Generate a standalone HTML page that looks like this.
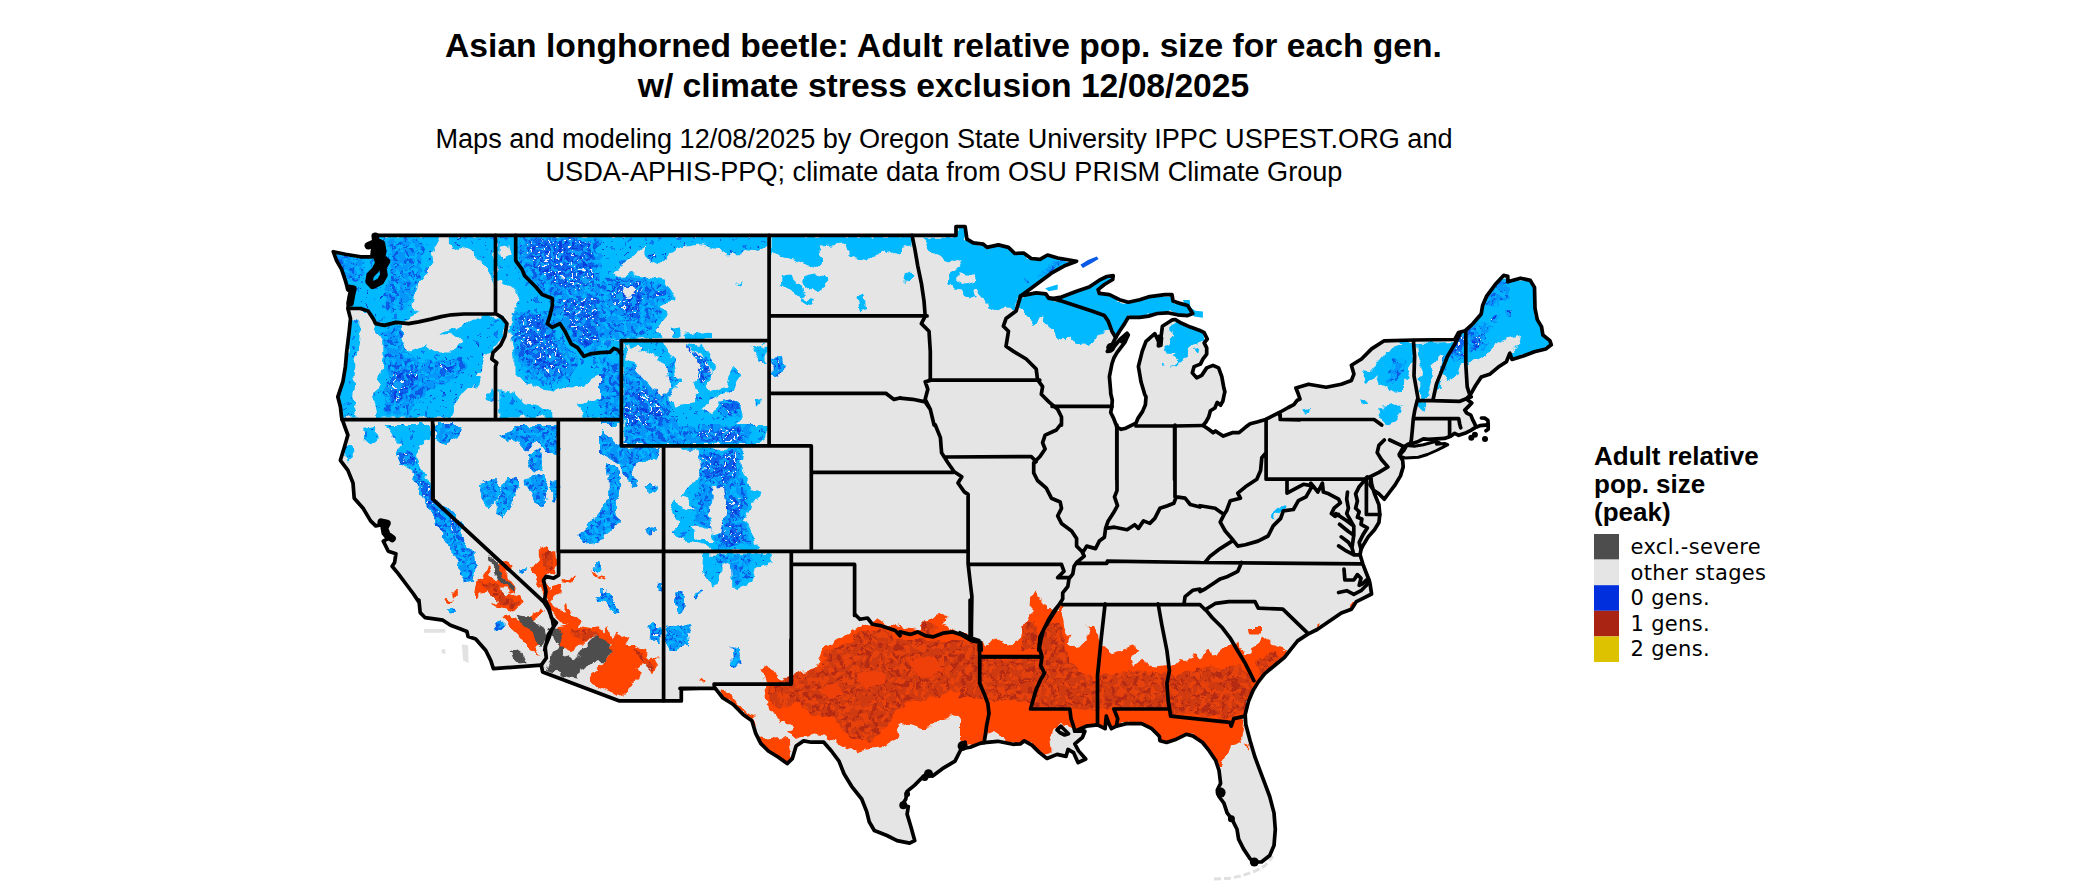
<!DOCTYPE html>
<html><head><meta charset="utf-8"><title>Asian longhorned beetle map</title>
<style>
html,body{margin:0;padding:0;background:#fff}
svg{display:block}
.t{font-family:"Liberation Sans",Arial,sans-serif;font-weight:bold;font-size:33.65px;fill:#000}
.s{font-family:"Liberation Sans",Arial,sans-serif;font-size:27.12px;fill:#000}
.lt{font-family:"Liberation Sans",Arial,sans-serif;font-weight:bold;font-size:26px;fill:#000}
.ll{font-family:"DejaVu Sans",Verdana,sans-serif;font-size:21px;letter-spacing:0.33px;fill:#000}
</style></head><body>
<svg width="2100" height="892" viewBox="0 0 2100 892">
<rect width="2100" height="892" fill="#fff"/>
<text class="t" x="943.5" y="57.3" text-anchor="middle">Asian longhorned beetle: Adult relative pop. size for each gen.</text>
<text class="t" x="943.5" y="97" text-anchor="middle">w/ climate stress exclusion 12/08/2025</text>
<text class="s" x="944" y="147.8" text-anchor="middle">Maps and modeling 12/08/2025 by Oregon State University IPPC USPEST.ORG and</text>
<text class="s" x="944" y="180.8" text-anchor="middle">USDA-APHIS-PPQ; climate data from OSU PRISM Climate Group</text>
<g id="legend">
<text class="lt" x="1594" y="465">Adult relative</text>
<text class="lt" x="1594" y="492.8">pop. size</text>
<text class="lt" x="1594" y="520.8">(peak)</text>
<rect x="1594" y="534" width="25" height="25.6" fill="#4d4d4d"/>
<rect x="1594" y="559.6" width="25" height="25.6" fill="#e5e5e5"/>
<rect x="1594" y="585.2" width="25" height="25.6" fill="#0030dd"/>
<rect x="1594" y="610.8" width="25" height="25.6" fill="#aa2414"/>
<rect x="1594" y="636.4" width="25" height="25.6" fill="#ddc200"/>
<text class="ll" x="1630.5" y="554">excl.-severe</text>
<text class="ll" x="1630.5" y="579.6">other stages</text>
<text class="ll" x="1630.5" y="605.2">0 gens.</text>
<text class="ll" x="1630.5" y="630.8">1 gens.</text>
<text class="ll" x="1630.5" y="656.4">2 gens.</text>
</g>
<defs>
<clipPath id="us"><path d="M375.2,235.3 900.0,235.3 956.0,235.3 956.0,226.5 965.1,226.5 966.9,239.1 973.2,242.9 983.3,244.2 987.0,247.4 998.4,244.9 1008.5,247.4 1014.8,253.5 1023.6,253.0 1031.2,258.5 1040.0,259.3 1047.6,255.0 1057.7,258.0 1076.6,261.3 1064.0,266.1 1051.4,273.2 1041.3,280.7 1031.2,288.3 1020.6,295.9 1036.2,292.9 1045.8,293.9 1048.9,298.4 1053.9,298.4 1061.5,297.1 1076.6,291.3 1089.2,287.0 1099.3,280.2 1106.9,276.5 1113.2,275.7 1112.7,279.5 1104.4,284.5 1098.1,289.6 1099.3,293.4 1109.4,294.6 1119.5,299.7 1128.3,302.2 1139.7,299.7 1149.8,296.6 1164.9,294.6 1172.0,294.6 1173.0,300.9 1180.1,303.4 1187.6,305.5 1192.7,313.5 1187.6,315.6 1177.5,314.8 1167.5,312.8 1157.4,313.5 1148.5,316.1 1139.7,317.3 1128.3,317.3 1124.6,323.6 1119.5,331.2 1115.7,337.5 1111.9,345.1 1107.4,351.4 1110.7,350.9 1119.5,340.0 1127.1,333.2 1128.3,335.0 1124.6,342.6 1117.0,352.6 1114.0,357.7 1111.9,364.0 1109.4,376.6 1110.7,391.8 1110.7,393.5 1112.3,400.2 1111.8,406.9 1110.7,412.5 1113.5,418.1 1115.7,423.7 1116.8,427.1 1121.3,429.3 1125.8,428.2 1131.4,425.4 1135.9,423.2 1138.1,418.1 1142.6,411.4 1145.4,404.7 1146.0,396.8 1144.7,394.3 1141.0,381.7 1138.4,366.5 1142.2,351.4 1146.0,341.3 1154.8,333.7 1158.6,341.3 1161.1,336.2 1162.4,326.2 1172.5,319.8 1175.3,319.5 1181.6,323.3 1190.4,327.1 1199.2,330.2 1204.2,332.7 1207.3,339.0 1204.2,342.8 1206.7,347.8 1206.7,354.1 1202.9,359.1 1200.4,364.1 1194.1,366.6 1192.3,372.9 1196.7,377.9 1201.7,375.4 1206.7,367.9 1213.0,365.4 1218.6,367.9 1221.8,376.7 1223.6,386.7 1224.9,392.0 1224.4,393.5 1222.8,401.3 1220.5,405.2 1217.2,402.4 1214.9,408.0 1210.4,410.8 1208.7,417.0 1205.9,422.0 1203.1,425.4 1208.7,429.3 1213.2,432.7 1215.5,431.0 1218.8,433.3 1223.3,436.1 1232.3,432.7 1239.0,432.7 1245.7,427.1 1250.2,423.7 1257.0,422.0 1264.8,419.8 1272.6,415.9 1279.4,412.5 1288.3,407.5 1293.9,404.7 1297.3,400.2 1300.0,399.1 1298.4,394.3 1295.9,388.0 1308.5,384.2 1326.2,387.2 1341.3,384.2 1351.4,380.4 1353.9,374.1 1351.4,365.3 1361.5,359.0 1371.6,348.9 1384.2,340.8 1414.5,340.0 1454.8,339.5 1458.6,332.5 1465.0,330.8 1472.8,323.8 1481.2,314.0 1482.6,305.6 1486.8,295.8 1495.2,284.6 1503.6,275.4 1507.8,276.2 1507.8,281.8 1520.4,278.2 1530.3,280.4 1534.5,287.4 1535.0,308.4 1537.3,319.6 1541.5,326.6 1542.9,335.0 1549.9,340.6 1551.3,344.8 1545.7,349.0 1534.5,351.8 1523.2,356.1 1512.0,359.4 1509.8,353.2 1506.4,361.7 1498.0,367.3 1489.6,374.3 1481.2,377.1 1475.6,385.5 1470.0,395.3 1467.2,398.1 1467.8,400.0 1471.8,403.0 1468.8,406.1 1464.8,410.1 1466.8,413.1 1470.8,415.1 1472.9,420.2 1474.9,424.2 1475.9,427.2 1470.8,430.3 1464.8,433.3 1458.7,435.3 1454.7,433.3 1450.6,436.3 1444.6,438.4 1436.5,438.9 1428.4,439.4 1423.4,438.9 1418.4,441.4 1412.3,443.4 1408.3,444.1 1403.2,447.4 1399.2,454.5 1402.7,460.6 1403.2,466.9 1400.5,475.9 1395.1,484.9 1389.7,492.0 1384.3,499.2 1378.9,493.8 1373.6,490.2 1370.0,484.9 1370.9,478.6 1371.8,484.9 1374.5,493.8 1378.9,504.6 1379.8,514.5 1378.9,522.5 1374.5,529.7 1368.2,536.9 1362.8,545.9 1361.0,549.4 1360.1,554.8 1362.8,563.8 1365.5,571.0 1369.1,580.0 1370.0,583.5 1371.6,594.0 1361.5,599.1 1356.4,601.6 1351.4,609.2 1341.3,613.0 1317.2,629.5 1307.4,634.4 1297.6,640.9 1291.0,649.1 1284.5,657.3 1274.6,665.5 1264.8,673.7 1258.3,681.9 1253.3,690.1 1248.4,701.5 1245.2,714.6 1245.8,724.5 1250.1,740.8 1255.0,757.2 1259.9,770.3 1264.8,783.4 1269.7,796.5 1274.0,812.9 1275.3,829.3 1274.0,845.6 1269.7,855.5 1261.5,862.0 1253.3,862.0 1250.1,858.7 1243.5,848.9 1238.6,839.1 1237.0,829.3 1232.1,819.4 1227.1,812.9 1223.9,803.1 1219.0,796.5 1217.3,790.0 1220.6,783.4 1219.0,770.3 1215.7,760.5 1209.1,750.7 1202.6,742.5 1192.8,735.9 1186.2,734.3 1176.4,739.2 1166.6,742.5 1160.0,740.8 1159.3,736.2 1151.8,728.7 1141.7,723.6 1126.5,723.6 1116.4,726.2 1111.4,728.7 1108.9,723.6 1106.3,716.1 1105.1,728.7 1097.5,724.9 1086.2,726.2 1074.8,731.2 1084.9,731.2 1082.4,737.5 1074.8,743.8 1078.6,750.9 1085.7,759.0 1078.1,762.7 1073.5,752.6 1068.0,749.4 1066.0,756.4 1057.1,754.4 1047.0,758.5 1039.5,752.6 1031.9,745.1 1024.3,740.8 1020.6,743.8 1013.0,744.3 997.8,741.3 984.0,742.6 980.0,743.4 970.2,747.2 962.6,748.5 965.1,742.2 960.1,751.0 955.0,761.1 942.4,768.7 932.3,776.2 928.5,772.5 922.2,777.5 914.7,785.1 907.1,791.4 905.8,799.0 902.0,805.3 908.3,806.5 907.1,814.1 910.9,826.7 914.7,840.6 909.6,843.1 897.0,840.6 886.9,835.5 874.3,830.5 869.2,821.7 866.7,811.6 861.7,799.0 851.6,786.3 844.0,773.7 839.0,761.1 831.4,751.0 823.8,742.2 811.2,742.2 803.6,740.9 796.1,746.0 792.3,758.6 787.2,763.6 778.4,757.3 768.3,751.0 760.7,743.4 755.7,733.4 751.9,720.7 743.1,714.4 733.0,704.3 722.9,698.0 715.3,688.4 680.0,688.4 700.0,688.3 681.3,688.8 681.3,700.9 662.4,700.9 619.5,700.9 542.6,671.9 541.3,665.1 493.4,668.6 490.8,660.6 485.8,650.5 475.7,639.1 468.1,636.6 466.9,631.5 460.6,629.0 450.5,625.2 442.9,620.2 425.2,617.7 420.2,612.6 418.9,600.0 418.6,601.6 413.5,594.0 406.0,584.0 398.4,573.9 392.1,566.3 394.6,562.5 395.9,553.7 388.3,551.2 383.3,541.1 388.3,538.5 383.3,533.5 382.0,524.7 375.7,525.9 370.6,520.9 363.1,508.3 354.2,498.2 353.0,483.0 347.9,470.4 340.4,460.3 344.2,447.7 347.9,435.1 344.2,425.0 341.6,417.5 340.4,406.9 337.8,396.8 342.9,381.7 345.4,366.5 346.7,351.4 349.2,331.2 350.5,318.6 347.9,308.5 349.2,298.4 351.7,290.8 347.9,289.6 345.4,280.7 341.6,269.4 336.6,260.6 333.3,251.7 345.4,254.2 360.6,256.8 371.9,256.8 373.2,242.9 375.2,235.3Z M1407.0,445.6 1414.3,446.2 1423.4,444.7 1432.5,442.2 1437.0,441.6 1439.7,442.8 1436.5,444.2 1444.6,443.4 1447.8,444.6 1442.6,447.4 1436.5,450.5 1427.4,454.5 1418.4,457.3 1405.2,458.0 1399.2,456.0 1404.2,450.5Z"/></clipPath>
<clipPath id="cMB"><path d="M335.3,254.2 363.1,258.0 364.3,273.2 354.2,283.3 345.4,280.7 341.6,269.4Z M385.8,240.4 418.6,237.8 426.2,250.5 421.1,265.6 418.6,283.3 411.0,300.9 400.9,311.0 385.8,311.0 383.3,295.9 388.3,283.3 390.8,265.6 388.3,250.5Z M380.7,331.2 400.9,326.2 406.0,351.4 418.6,361.5 441.3,361.5 461.5,356.4 466.5,366.5 451.4,381.7 431.2,386.7 418.6,399.3 408.5,414.5 385.8,414.5 383.3,391.8 388.3,371.6 385.8,351.4Z M519.5,237.8 600.0,237.8 600.0,348.9 582.6,351.4 571.2,341.3 564.9,328.7 559.9,321.1 553.6,324.9 549.8,318.6 553.6,300.9 542.2,293.4 527.1,275.7 519.5,263.1Z M514.5,311.0 547.3,311.0 552.3,331.2 567.5,346.3 577.5,361.5 572.5,376.6 552.3,384.2 527.1,376.6 517.0,356.4 511.9,336.2Z M605.0,278.2 630.3,275.7 650.5,280.7 668.1,285.8 671.9,298.4 658.0,303.4 660.6,316.1 650.5,326.2 640.4,336.2 600.0,338.8 600.0,285.8Z M600.0,356.4 621.4,361.5 621.4,425.1 600.0,425.1Z M624.0,366.5 670.6,364.0 675.7,381.7 668.1,399.3 675.7,425.1 624.0,425.1Z M718.6,401.9 731.2,399.3 741.3,406.9 740.0,417.0 726.2,418.3 717.3,411.9Z M771.6,356.4 781.7,357.7 784.2,366.5 779.1,376.6 771.6,375.4Z M1036.2,277.0 1053.9,261.8 1066.5,260.6 1051.4,269.4 1041.3,277.0Z M1023.6,278.7 1029.2,278.2 1029.9,282.8 1024.1,283.3Z M1080.4,264.3 1096.8,256.8 1098.1,259.3 1082.9,267.6Z M1394.3,361.5 1406.9,359.0 1404.4,371.6 1394.3,381.7 1386.7,384.2 1389.2,374.1Z M1442.2,361.5 1452.3,343.8 1453.6,351.4 1446.0,364.0 1441.0,374.1Z M1467.5,336.2 1477.5,331.2 1490.2,341.3 1482.6,348.9 1472.5,351.4 1466.2,346.3Z M1487.6,288.3 1500.0,280.7 1500.0,306.0 1492.7,303.4Z M1484.0,297.2 1495.2,284.6 1503.6,276.2 1507.8,277.6 1510.6,297.2 1495.2,302.8 1486.8,303.4Z M1470.0,328.0 1484.0,322.4 1492.4,326.6 1484.0,339.2 1472.8,344.8 1467.2,339.2Z M1450.4,347.6 1460.2,336.4 1465.0,342.0 1461.6,358.9 1453.2,361.7Z M441.3,531.0 451.4,536.0 466.5,556.2 471.6,576.4 465.3,578.9 456.4,556.2Z M514.5,430.0 537.2,427.5 534.7,440.1 522.0,437.6Z M624.0,425.0 751.4,425.0 746.3,442.7 624.0,443.2Z M605.0,440.1 620.2,450.2 650.5,450.7 637.8,457.8 627.8,462.8 615.1,455.3Z M608.8,470.4 617.7,474.2 613.9,500.7 613.9,520.9 607.6,528.4 602.5,520.9 608.8,500.7Z M693.4,450.2 741.3,450.2 741.3,475.5 748.9,495.6 743.8,520.9 748.9,543.6 718.6,548.6 713.5,531.0 695.9,520.9 693.4,500.7 700.9,488.1 695.9,470.4Z M711.0,554.9 751.4,554.9 748.9,576.4 736.2,586.5 731.2,576.4 721.1,566.3Z M603.8,594.0 610.1,594.0 610.1,599.1 604.5,599.1Z M647.9,625.6 660.6,626.9 661.8,642.0 653.0,642.0 649.2,634.4Z M495.9,622.7 502.2,622.2 502.2,629.0 497.1,629.8Z M647.3,625.2 661.1,626.5 661.1,641.6 649.8,640.4Z M731.7,645.0 738.0,647.6 739.3,665.2 733.0,665.2Z M603.4,592.6 610.5,593.6 610.5,598.6 604.4,598.6Z M647.8,626.9 653.9,623.9 660.9,628.9 660.9,641.0 653.9,643.0 648.8,637.0Z M578.2,536.1 587.3,530.0 605.4,530.0 603.4,538.1 591.3,542.1 581.2,543.1Z M414.8,467.9 431.2,488.1 433.7,500.7 451.4,510.8 464.0,525.9 461.5,536.0 466.5,543.6 474.1,551.2 476.6,566.3 474.1,581.4 464.0,582.7 461.5,568.8 451.4,551.2 441.3,533.5 431.2,515.8 423.6,498.2 413.5,480.5Z M435.0,425.0 461.5,425.0 459.0,437.6 446.3,445.2 437.5,440.1Z M499.3,435.1 519.5,425.0 557.4,425.0 557.4,455.3 547.3,452.8 537.2,440.1 527.1,450.2 517.0,440.1 506.9,442.7Z M479.1,483.0 494.3,478.0 501.9,488.1 496.8,498.2 489.2,508.3 481.7,498.2Z M496.8,500.7 509.4,475.5 519.5,480.5 514.5,500.7 504.4,518.4 496.8,513.3Z M524.6,480.5 542.2,472.9 549.8,488.1 542.2,505.7 532.1,500.7Z M527.1,455.3 539.7,447.7 542.2,467.9 532.1,472.9Z M552.3,480.5 557.4,483.0 556.1,503.2 552.3,500.7Z M577.5,536.0 587.6,525.9 600.0,510.8 600.0,541.1 585.1,543.6Z M448.9,610.4 453.9,609.2 453.4,613.7 449.4,614.2Z M495.5,623.1 501.9,621.8 501.9,629.4 496.8,629.9Z M519.5,568.8 524.6,568.3 524.6,572.6 520.0,572.6Z M593.9,561.2 599.0,560.0 600.0,571.3 595.2,570.1Z M600.0,430.0 620.2,447.2 660.6,448.2 654.2,457.8 637.8,462.8 632.8,475.5 639.1,485.6 635.3,488.1 625.2,476.7 620.2,465.4 610.1,459.1 600.0,452.8Z M605.0,462.8 618.9,469.2 622.2,484.3 616.4,500.7 617.7,520.9 610.1,532.2 600.0,536.0 600.0,510.8 607.6,500.7 609.6,483.0Z M646.7,486.8 656.8,485.6 655.5,493.1 647.9,494.4Z M645.4,529.7 656.8,527.2 656.8,532.2 646.7,533.5Z M673.2,592.8 683.3,591.5 684.5,611.7 678.2,614.2 675.7,601.6Z M692.1,596.6 700.9,590.3 699.7,596.6 694.6,600.4Z M600.0,590.3 610.1,591.5 612.6,601.6 617.7,614.2 612.6,611.7 605.0,601.6 600.0,599.1Z M656.8,584.0 661.8,582.7 661.8,591.5 658.0,590.3Z M666.9,626.9 673.2,625.6 675.7,636.9 688.3,624.3 689.6,644.5 673.2,650.1 666.9,647.0Z M447.9,609.6 454.2,608.8 454.2,613.1 448.4,613.9Z M606.9,600.0 614.5,601.3 618.3,612.6 614.5,615.1 609.4,607.6Z M677.5,600.0 685.1,600.0 683.9,612.6 677.5,613.9Z M664.9,629.0 690.2,624.0 690.2,632.8 680.1,635.3 687.6,639.1 688.9,645.4 672.5,649.2 670.0,642.9 675.0,637.8 664.9,635.3Z M680.0,640.0 690.1,640.0 688.8,646.3 680.0,645.0Z M595.3,560.3 599.4,560.3 601.4,570.4 597.4,572.4 594.3,566.3Z M597.4,596.6 603.4,590.6 611.5,592.6 611.5,600.6 617.5,608.7 617.5,614.8 611.5,610.7 607.4,602.7 599.4,601.7Z M495.4,622.9 501.5,621.8 502.5,628.9 497.4,629.9Z"/></clipPath>
<clipPath id="cDB"><path d="M393.4,371.6 413.5,369.0 421.1,376.6 408.5,386.7 400.9,401.9 390.8,401.9 389.6,386.7Z M433.7,366.5 451.4,365.3 453.9,372.8 441.3,376.6Z M522.0,316.1 542.2,313.5 549.8,336.2 562.4,351.4 567.5,369.0 552.3,376.6 532.1,366.5 522.0,346.3 517.0,331.2Z M527.1,240.4 590.2,240.4 595.2,275.7 577.5,290.8 557.4,285.8 537.2,270.6 527.1,255.5Z M562.4,300.9 597.7,295.9 597.7,341.3 582.6,346.3 567.5,326.2Z M615.1,283.3 627.8,279.5 640.4,284.5 645.4,295.9 637.8,306.0 640.4,316.1 630.3,318.6 622.7,308.5 612.6,300.9 607.6,290.8Z M650.5,290.8 660.6,289.6 663.1,295.9 654.2,298.4Z M646.7,254.2 656.8,253.0 658.0,259.3 650.5,260.6Z M632.8,394.3 645.4,386.7 665.6,409.4 658.0,419.5 647.9,417.0Z M625.2,401.9 642.9,406.9 650.5,425.1 625.2,425.1Z M685.8,343.8 706.0,361.5 709.8,376.6 700.9,384.2 697.1,374.1 699.7,364.0Z M723.6,404.4 733.7,403.1 737.5,411.9 727.4,414.5Z M772.3,360.2 779.1,361.5 779.6,369.0 772.8,370.3Z M1456.1,337.5 1463.7,336.2 1463.7,356.4 1454.8,353.9Z M1470.0,338.8 1480.1,336.2 1483.9,342.6 1475.0,346.3Z M1492.4,317.4 1498.0,316.8 1498.6,322.4 1493.0,323.0Z M1505.9,311.8 1510.9,311.2 1510.9,316.8 1506.4,316.8Z M1471.4,336.4 1479.8,333.6 1481.2,340.6 1473.4,342.6Z M397.1,452.8 411.0,451.5 416.1,460.3 411.0,466.6 400.9,465.4Z M418.6,472.9 431.2,490.6 435.0,503.2 441.3,513.3 436.2,520.9 426.2,500.7 418.6,483.0Z M448.9,515.8 461.5,525.9 459.0,536.0 451.4,531.0Z M695.9,430.0 741.3,427.5 741.3,442.7 700.9,442.7Z M700.9,455.3 736.2,452.8 736.2,475.5 721.1,483.0 706.0,475.5Z M723.6,500.7 746.3,495.6 741.3,515.8 726.2,513.3Z M721.1,525.9 741.3,523.4 743.8,543.6 723.6,546.1Z M649.8,629.0 658.6,629.8 658.6,637.8 651.1,637.8Z M649.8,628.9 657.9,628.9 658.9,639.0 651.9,640.0Z"/></clipPath>
<clipPath id="cDR"><path d="M852.3,634.4 877.5,629.4 892.7,634.4 890.2,650.1 852.3,650.1Z M920.2,626.9 930.3,621.8 937.8,626.9 932.8,634.4 922.7,633.2Z M900.0,642.0 963.1,642.0 975.7,650.1 900.0,650.1Z M1023.6,626.9 1033.7,624.3 1038.8,636.9 1036.2,650.1 1021.1,650.1Z M1041.3,642.0 1064.0,639.5 1061.5,650.1 1041.3,650.1Z M768.3,687.9 798.6,672.8 821.3,667.8 826.3,652.6 846.5,642.5 871.8,640.0 980.0,640.0 980.0,680.4 957.5,690.5 932.3,698.0 907.1,703.1 894.5,713.2 886.9,725.8 871.8,740.9 856.6,740.9 841.5,730.8 831.4,715.7 811.2,715.7 798.6,703.1 780.9,708.1 770.8,703.1Z M960.0,640.4 977.7,642.9 980.2,658.0 1038.2,658.0 1043.3,630.3 1048.3,620.2 1060.9,625.2 1066.0,650.5 1076.1,670.6 1096.2,680.7 1101.3,675.7 1136.6,670.6 1169.4,673.2 1187.1,675.7 1212.3,668.1 1237.5,668.1 1252.7,675.7 1245.1,706.0 1232.5,718.6 1169.4,713.5 1169.4,708.5 1113.9,708.5 1097.5,711.0 1071.0,708.5 1033.2,708.5 1030.6,700.9 985.2,700.9 975.1,695.9 960.0,698.4Z M1021.8,625.2 1035.7,622.7 1038.2,650.5 1023.1,647.9Z M1169.8,675.3 1186.2,672.1 1205.9,665.5 1225.5,668.8 1238.6,665.5 1248.4,678.6 1253.3,688.4 1248.4,701.5 1243.5,713.0 1230.4,717.9 1173.1,713.0 1168.2,691.7Z M1255.0,662.2 1271.4,652.4 1281.2,659.0 1268.1,670.4 1258.3,675.3Z M478.3,580.5 490.4,582.5 502.5,590.6 510.6,598.6 518.6,602.7 514.6,608.7 502.5,604.7 490.4,594.6Z M540.8,554.2 550.9,552.2 554.0,568.4 544.9,570.4Z M571.1,628.9 591.3,630.9 599.4,637.0 583.2,639.0 571.1,635.0Z M631.7,647.1 651.9,661.2 651.9,671.3 641.8,659.2Z"/></clipPath>
<clipPath id="cRD"><path d="M443.8,599.1 446.3,597.8 453.9,601.6 451.4,604.1Z M452.6,591.5 457.7,591.0 457.7,596.6Z M823.3,650.1 837.2,639.5 852.3,629.4 862.4,624.3 871.2,625.6 877.5,616.8 887.6,624.3 900.0,626.9 900.0,650.1Z M900.0,624.3 905.0,626.9 917.7,629.4 925.2,624.3 932.8,618.0 940.4,613.0 946.7,616.8 940.4,624.3 950.5,626.9 954.2,630.6 960.6,634.4 971.4,639.5 980.7,642.0 983.3,647.0 995.9,639.5 1000.9,642.0 1006.0,647.0 1018.6,642.0 1023.6,626.9 1029.9,616.8 1031.2,599.1 1036.2,590.3 1038.8,599.1 1047.6,604.1 1048.9,611.7 1053.9,613.0 1057.7,606.7 1062.7,601.6 1061.5,611.7 1064.0,624.3 1065.3,636.9 1071.6,634.4 1066.5,644.5 1076.6,650.1 900.0,650.1Z M1076.6,650.1 1086.7,639.5 1089.2,626.9 1094.3,626.9 1098.1,639.5 1101.9,644.5 1106.9,650.1Z M1129.6,645.8 1134.7,644.5 1137.2,650.1 1128.3,650.1Z M1250.5,628.1 1259.3,628.1 1259.3,634.4 1250.5,634.4Z M1254.2,650.1 1260.6,638.2 1266.9,636.9 1270.6,644.5 1283.3,648.3 1285.8,650.1Z M1224.0,650.1 1230.3,644.5 1237.8,643.3 1242.9,650.1Z M1347.6,606.7 1356.4,602.9 1356.9,606.7 1348.9,615.5Z M1317.3,625.6 1319.8,624.3 1319.8,634.4 1317.3,634.4Z M791.0,680.4 798.6,671.5 816.2,667.8 821.3,655.1 823.8,647.6 831.4,643.8 844.0,640.0 980.0,640.0 980.0,733.4 972.7,737.1 965.1,725.8 957.5,715.7 950.0,713.2 947.5,718.2 937.4,720.7 932.3,727.0 922.2,728.3 907.1,723.3 897.0,727.0 899.5,735.9 891.9,740.9 881.9,747.2 871.8,748.5 856.6,752.3 846.5,748.5 836.4,740.9 826.3,735.9 816.2,734.6 806.2,737.1 798.6,738.4 791.0,733.4 786.0,733.4 793.5,728.3 791.0,723.3 780.9,723.3 773.4,713.2 767.0,705.6 764.5,690.5 767.0,685.4Z M762.0,667.8 770.8,665.2 775.9,672.8 780.9,680.4 791.0,680.4 788.5,684.2 765.8,684.2 763.3,677.8Z M720.4,689.2 725.4,690.5 735.5,700.6 745.6,713.2 753.2,715.7 755.7,725.8 758.2,737.1 765.8,738.4 780.9,737.1 791.0,740.9 788.5,751.0 791.0,758.6 787.2,762.4 778.4,756.6 768.3,750.5 761.2,742.9 756.2,732.9 752.4,720.7 743.6,713.9 733.5,704.1 723.4,697.5Z M698.9,677.8 705.2,677.8 705.2,680.4 698.9,680.4Z M960.0,632.8 970.1,635.3 975.1,637.8 982.7,641.6 985.2,646.7 997.8,645.4 999.1,639.1 1007.9,645.4 1019.3,641.6 1021.8,625.2 1030.6,620.2 1031.9,607.6 1035.7,601.3 1045.8,602.5 1048.3,610.1 1053.4,610.1 1060.9,617.7 1064.7,627.8 1067.2,637.8 1071.0,635.3 1068.5,645.4 1076.1,647.9 1086.2,645.4 1089.9,635.3 1088.7,626.5 1093.7,627.8 1097.5,637.8 1101.3,644.2 1111.4,653.0 1121.5,650.5 1131.6,645.4 1136.6,650.5 1131.6,658.0 1134.1,665.6 1141.7,660.6 1151.8,666.9 1169.4,668.1 1179.5,665.6 1187.1,659.3 1197.2,660.6 1207.3,653.0 1217.4,658.0 1224.9,650.5 1232.5,645.4 1240.1,649.2 1245.1,658.0 1250.2,653.0 1260.0,647.9 1260.0,665.6 1253.9,680.7 1250.2,695.9 1246.4,708.5 1245.1,718.6 1242.6,731.2 1237.5,743.8 1230.0,746.3 1227.5,753.9 1222.4,764.0 1217.4,761.5 1209.8,753.9 1202.2,746.3 1194.7,737.5 1187.1,733.7 1179.5,736.2 1169.4,745.1 1161.9,743.8 1159.3,736.2 1151.8,728.7 1141.7,723.6 1126.5,723.6 1116.4,726.2 1111.4,728.7 1106.3,726.2 1097.5,724.9 1086.2,726.2 1074.8,731.2 1068.5,726.2 1060.9,724.9 1053.4,731.2 1049.6,741.3 1050.8,751.4 1043.3,755.2 1038.2,751.4 1033.2,746.3 1023.1,741.3 1018.0,745.1 1010.5,742.6 1000.4,736.2 992.8,731.2 985.2,736.2 984.0,742.6 967.6,746.3 960.0,738.8Z M1250.2,629.0 1260.0,627.8 1260.0,634.1 1251.4,634.1Z M1243.9,742.6 1247.6,743.8 1246.4,750.1Z M1160.0,667.1 1173.1,665.5 1179.7,659.0 1189.5,660.6 1192.8,654.0 1199.3,659.0 1209.1,650.8 1215.7,655.7 1225.5,647.5 1235.3,645.9 1241.9,657.3 1251.7,649.1 1261.5,642.6 1264.8,637.7 1269.7,645.9 1281.2,649.1 1287.7,654.0 1284.5,659.0 1274.6,665.5 1264.8,673.7 1258.3,681.9 1253.3,690.1 1248.4,701.5 1245.2,714.6 1240.2,727.7 1241.9,740.8 1235.3,744.1 1227.1,745.7 1223.9,757.2 1220.6,763.8 1215.7,760.5 1209.1,750.7 1202.6,742.5 1192.8,735.9 1186.2,734.3 1176.4,739.2 1166.6,742.5 1160.0,740.8Z M1250.1,629.5 1258.3,628.8 1259.9,633.4 1251.0,634.1Z M1243.5,742.5 1247.8,744.1 1246.8,749.0Z M1348.3,604.9 1356.5,601.6 1355.9,608.2 1350.0,614.7Z M476.2,582.5 482.3,578.4 485.3,568.4 488.4,566.3 490.4,576.4 496.4,580.5 500.5,574.4 496.4,566.3 502.5,560.3 508.5,560.3 510.6,566.3 506.5,570.4 510.6,580.5 516.6,588.5 512.6,592.6 506.5,588.5 500.5,588.5 492.4,590.6 482.3,592.6 476.2,598.6 474.2,594.6Z M488.4,602.7 498.4,604.7 504.5,596.6 510.6,592.6 518.6,596.6 522.7,602.7 516.6,608.7 510.6,610.7 502.5,608.7 494.4,606.7Z M502.5,616.8 510.6,614.8 518.6,620.8 526.7,616.8 534.8,610.7 540.8,606.7 544.9,610.7 538.8,616.8 530.7,622.9 534.8,630.9 542.9,635.0 540.8,643.0 534.8,647.1 538.8,655.1 530.7,651.1 524.7,643.0 518.6,635.0 510.6,626.9 504.5,620.8Z M538.8,552.2 546.9,546.1 548.9,552.2 555.0,550.2 557.0,566.3 555.0,574.4 546.9,573.4 544.9,578.4 538.8,582.5 534.8,576.4 528.7,568.4 534.8,566.3 538.8,560.3Z M536.8,582.5 544.9,580.5 550.9,588.5 560.0,585.5 562.0,591.6 555.0,594.6 551.9,600.6 555.0,606.7 563.0,610.7 567.1,604.7 569.1,614.8 579.2,616.8 581.2,622.9 575.1,626.9 565.1,624.9 559.0,618.8 550.9,610.7 546.9,600.6 542.9,592.6Z M559.0,626.9 571.1,624.9 579.2,626.9 591.3,628.9 598.4,624.9 601.4,632.9 607.4,626.9 611.5,637.0 617.5,630.9 621.6,639.0 629.6,637.0 625.6,645.1 635.7,645.1 643.8,651.1 651.9,659.2 657.9,657.2 651.9,675.3 648.8,665.2 641.8,661.2 637.7,667.3 639.7,675.3 631.7,683.4 627.6,691.5 621.6,697.5 611.5,691.5 603.4,689.5 591.3,683.4 587.3,677.4 595.3,671.3 603.4,663.2 609.5,655.1 611.5,645.1 603.4,641.0 595.3,637.0 587.3,639.0 579.2,647.1 571.1,651.1 563.0,649.1 557.0,643.0 555.0,635.0Z M561.0,577.4 569.1,580.5 573.1,575.4 576.2,574.4 571.1,584.5 563.0,583.5Z M452.0,592.6 457.1,591.6 458.1,596.6 453.0,597.6Z M591.3,568.4 597.4,574.4 605.4,577.4 603.4,579.5 594.3,575.4Z"/></clipPath>
<clipPath id="cLB"><path d="M375.2,235.8 441.3,235.8 436.2,245.4 431.2,254.2 432.5,263.1 426.2,273.2 418.6,283.3 414.8,295.9 413.5,306.0 418.6,312.3 411.0,318.6 400.9,322.4 384.5,324.9 375.7,323.1 373.2,317.3 366.9,310.5 349.2,308.5 349.2,298.4 351.7,290.8 347.9,289.6 345.4,280.7 341.6,269.4 336.6,260.6 333.3,251.7 345.4,254.2 360.6,256.8 371.9,256.8Z M448.9,235.8 494.3,235.8 494.3,283.3 489.2,275.7 485.4,265.6 476.6,258.0 474.1,250.5 464.0,246.7 453.9,250.5 448.9,242.9Z M349.2,318.6 360.6,321.1 359.3,341.3 355.5,361.5 354.2,381.7 353.0,401.9 358.0,417.5 341.6,417.5 340.4,406.9 337.8,396.8 342.9,381.7 345.4,366.5 346.7,351.4 349.2,331.2Z M375.7,324.9 400.9,323.6 403.4,336.2 408.5,351.4 418.6,348.9 431.2,341.3 441.3,333.7 461.5,326.2 476.6,318.6 494.3,316.1 501.9,318.6 505.6,326.2 503.1,337.5 491.8,351.4 484.2,356.4 481.7,371.6 474.1,381.7 464.0,391.8 456.4,401.9 451.4,417.5 375.7,417.5 373.2,401.9 378.2,381.7 383.3,361.5 383.3,341.3 375.7,331.2Z M496.8,235.8 600.0,235.8 600.0,376.6 587.6,381.7 577.5,388.0 562.4,386.7 552.3,391.8 537.2,388.0 527.1,385.4 519.5,376.6 514.5,371.6 514.5,356.4 511.9,341.3 509.4,326.2 514.5,311.0 519.5,300.9 517.0,290.8 509.4,285.8 501.9,283.3 496.8,275.7Z M499.3,389.2 514.5,393.0 522.0,401.9 537.2,405.6 549.8,411.9 552.3,417.5 499.3,417.5Z M580.1,404.4 600.0,399.3 600.0,417.5 582.6,417.5Z M474.1,376.6 481.7,377.9 476.6,386.7 471.6,385.4Z M486.7,391.8 494.3,390.5 494.3,401.9 488.0,399.3Z M600.0,235.8 766.5,235.8 766.5,247.9 756.4,250.5 746.3,249.2 741.3,254.2 726.2,254.2 718.6,249.2 708.5,246.7 700.9,244.2 685.8,246.7 673.2,250.5 668.1,256.8 658.0,264.3 650.5,260.6 644.2,254.2 645.4,246.7 635.3,254.2 626.5,260.6 618.9,268.1 612.6,275.7 622.7,275.7 632.8,273.2 650.5,278.2 665.6,280.7 673.2,293.4 675.7,298.4 660.6,306.0 668.1,316.1 661.8,323.6 655.5,331.2 663.1,338.8 621.4,340.0 600.0,341.3Z M670.6,328.7 679.5,327.4 680.7,336.2 673.2,337.5Z M684.5,335.0 711.0,331.2 711.0,338.8 685.8,339.3Z M736.2,283.3 742.6,280.2 741.3,285.8Z M771.6,235.8 900.0,235.8 900.0,254.2 892.7,254.2 885.1,249.2 872.5,256.8 867.5,260.6 854.8,256.8 848.5,250.5 846.0,242.9 834.7,244.2 819.5,245.4 817.0,250.5 824.6,259.3 822.0,266.9 814.5,268.1 806.9,264.3 791.8,259.3 781.7,256.8 774.1,251.7 771.6,254.2Z M782.9,275.7 791.8,275.7 794.3,283.3 801.9,287.0 806.9,295.9 801.9,298.4 794.3,292.1 788.0,288.3 781.7,283.3Z M804.4,275.7 817.0,273.2 827.1,278.2 827.1,285.8 817.0,292.1 809.4,289.6 803.1,284.5Z M857.4,297.1 863.7,294.6 864.9,308.5 859.9,311.0Z M801.9,298.4 811.9,300.9 810.7,304.7 801.9,302.2Z M622.7,341.3 663.1,341.3 668.1,348.9 673.2,361.5 675.7,376.6 683.3,381.7 670.6,389.2 669.4,399.3 675.7,404.4 695.9,401.9 697.1,391.8 693.4,384.2 700.9,376.6 711.0,374.1 706.0,361.5 700.9,353.9 687.0,345.1 690.8,342.6 700.9,346.3 711.0,353.9 713.5,364.0 711.0,376.6 706.0,386.7 711.0,391.8 726.2,386.7 728.7,374.1 735.0,367.8 741.3,374.1 736.2,381.7 733.7,390.5 721.1,394.3 711.0,399.3 703.4,409.4 711.0,414.5 718.6,404.4 731.2,400.6 741.3,406.9 743.8,417.0 736.2,425.1 622.7,425.1Z M600.0,341.3 621.4,341.3 621.4,425.1 600.0,425.1Z M752.6,347.6 761.5,343.8 766.5,351.4 766.5,364.0 760.2,361.5 755.2,353.9Z M755.2,399.3 761.5,398.1 761.5,403.9 755.9,404.4Z M900.0,237.8 911.4,237.8 911.4,245.4 900.0,246.7Z M903.8,274.4 910.1,271.4 914.6,275.7 910.1,281.2 905.0,280.2Z M921.4,237.8 956.8,237.8 956.8,227.8 964.3,227.8 966.9,239.1 973.2,243.4 983.3,244.9 987.0,247.9 998.4,245.4 1008.5,247.9 1014.8,254.0 1023.6,253.5 1031.2,259.0 1040.0,259.8 1047.6,255.5 1057.7,258.5 1075.4,261.3 1064.0,266.1 1051.4,273.2 1041.3,280.7 1031.2,288.3 1021.1,295.4 1017.3,298.4 1016.1,308.5 1006.0,307.2 995.9,311.0 988.3,308.5 987.0,300.9 980.7,293.4 970.6,283.3 958.0,266.9 960.6,261.8 942.9,259.3 930.3,250.5 925.2,242.9Z M949.2,273.2 958.0,268.1 973.2,273.2 982.0,278.2 980.7,285.8 973.2,290.8 975.7,295.9 968.1,298.4 963.1,290.8 954.2,289.6 947.9,282.0Z M1018.6,297.1 1036.2,293.4 1045.8,294.6 1048.9,298.9 1061.5,300.9 1076.6,306.0 1091.8,311.0 1104.4,315.6 1108.2,321.1 1109.4,331.2 1099.3,333.7 1094.3,341.3 1088.0,345.1 1076.6,343.8 1071.6,337.5 1064.0,341.3 1059.0,337.5 1051.4,328.7 1045.1,323.6 1041.3,317.3 1036.2,319.8 1032.5,326.2 1029.9,318.6 1023.6,311.0 1018.6,308.5Z M1045.1,288.3 1057.7,284.5 1057.7,289.6 1048.9,291.3Z M1061.5,297.1 1076.6,291.3 1089.2,287.0 1099.3,280.2 1106.9,276.5 1113.2,275.7 1112.7,279.5 1104.4,284.5 1098.1,289.6 1099.3,293.4 1109.4,294.6 1119.5,299.7 1128.3,302.2 1139.7,299.7 1149.8,296.6 1164.9,294.6 1172.0,294.6 1173.0,300.9 1180.1,303.4 1187.6,305.5 1200.0,311.0 1200.0,316.1 1187.6,315.6 1177.5,314.8 1167.5,312.8 1157.4,313.5 1148.5,316.1 1139.7,317.3 1128.3,317.3 1124.6,323.6 1119.5,331.2 1115.7,337.5 1111.9,331.2 1108.2,321.1 1104.4,315.6 1091.8,311.0 1076.6,306.0 1061.5,300.9Z M1154.8,319.8 1161.1,318.6 1159.9,326.2 1154.8,326.2Z M1146.0,336.2 1151.1,335.0 1149.8,341.3Z M1200.0,311.0 1202.5,311.0 1203.0,318.6 1200.0,318.6Z M1386.7,351.4 1399.3,345.1 1410.7,343.8 1410.7,356.4 1406.9,371.6 1403.1,381.7 1403.1,391.8 1394.3,393.0 1386.7,388.0 1376.6,384.2 1374.1,376.6 1367.8,382.9 1361.5,376.6 1364.0,370.3 1371.6,371.6 1376.6,364.0 1381.7,357.7Z M1419.5,401.9 1427.1,403.1 1424.6,410.7 1420.8,409.4Z M1455.3,340.0 1458.6,333.7 1463.7,332.5 1464.4,361.5 1459.9,364.0 1457.4,374.1 1449.8,376.6 1443.5,376.6 1446.0,364.0 1452.3,351.4Z M1464.4,333.7 1472.5,327.9 1477.5,319.1 1480.1,309.0 1485.1,296.4 1492.7,286.3 1500.0,277.5 1500.0,341.3 1492.7,346.3 1487.6,353.9 1477.5,360.2 1470.0,359.0 1464.9,361.5Z M1376.6,414.5 1384.2,404.4 1391.8,403.1 1400.6,405.6 1399.3,414.5 1394.3,419.5 1386.7,422.0 1380.4,419.5Z M1303.4,410.7 1311.0,408.9 1309.8,413.2 1304.7,414.0Z M1360.2,400.6 1367.8,399.8 1366.5,404.4 1361.5,405.6Z M1465.0,330.8 1472.8,323.8 1481.2,314.0 1482.6,305.6 1486.8,295.8 1495.2,284.6 1503.6,275.4 1507.8,276.2 1507.8,281.8 1520.4,278.2 1530.3,280.4 1534.5,287.4 1535.0,308.4 1537.3,319.6 1541.5,326.6 1542.9,335.0 1549.9,340.6 1551.3,344.8 1545.7,349.0 1534.5,351.8 1523.2,356.1 1512.0,359.4 1509.8,353.2 1512.0,351.8 1520.4,342.0 1517.6,334.2 1506.4,337.8 1492.4,344.8 1481.2,353.2 1467.2,364.5 1466.1,342.0Z M1506.4,361.7 1512.0,359.4 1512.0,370.1 1507.8,368.7Z M1460.2,333.6 1465.8,331.4 1465.8,361.7 1460.2,364.5 1456.0,375.7 1446.2,379.9 1442.0,370.1 1447.6,356.1 1456.0,342.0Z M1400.0,342.0 1412.6,342.0 1412.6,356.1 1409.8,370.1 1405.6,381.3 1400.0,382.7Z M1421.0,402.3 1426.6,403.1 1425.2,409.3 1421.8,409.3Z M364.3,428.8 375.7,427.0 378.7,436.4 371.2,443.2 365.1,438.1Z M346.7,446.4 351.7,445.2 353.0,457.8 347.9,462.8 344.2,455.3Z M384.5,425.0 431.2,425.0 431.2,440.1 418.6,445.2 416.1,455.3 421.1,467.9 431.2,485.6 431.2,498.2 426.2,488.1 418.6,475.5 408.5,470.4 400.9,465.4 395.9,452.8 400.9,445.2 393.4,437.6Z M414.8,467.9 431.2,488.1 433.7,500.7 451.4,510.8 464.0,525.9 461.5,536.0 466.5,543.6 474.1,551.2 476.6,566.3 474.1,581.4 464.0,582.7 461.5,568.8 451.4,551.2 441.3,533.5 431.2,515.8 423.6,498.2 413.5,480.5Z M435.0,425.0 461.5,425.0 459.0,437.6 446.3,445.2 437.5,440.1Z M499.3,435.1 519.5,425.0 557.4,425.0 557.4,455.3 547.3,452.8 537.2,440.1 527.1,450.2 517.0,440.1 506.9,442.7Z M479.1,483.0 494.3,478.0 501.9,488.1 496.8,498.2 489.2,508.3 481.7,498.2Z M496.8,500.7 509.4,475.5 519.5,480.5 514.5,500.7 504.4,518.4 496.8,513.3Z M524.6,480.5 542.2,472.9 549.8,488.1 542.2,505.7 532.1,500.7Z M527.1,455.3 539.7,447.7 542.2,467.9 532.1,472.9Z M552.3,480.5 557.4,483.0 556.1,503.2 552.3,500.7Z M577.5,536.0 587.6,525.9 600.0,510.8 600.0,541.1 585.1,543.6Z M448.9,610.4 453.9,609.2 453.4,613.7 449.4,614.2Z M495.5,623.1 501.9,621.8 501.9,629.4 496.8,629.9Z M519.5,568.8 524.6,568.3 524.6,572.6 520.0,572.6Z M593.9,561.2 599.0,560.0 600.0,571.3 595.2,570.1Z M622.7,425.0 766.5,425.0 766.5,440.1 756.4,443.9 622.7,443.9Z M600.0,430.0 620.2,447.2 660.6,448.2 654.2,457.8 637.8,462.8 632.8,475.5 639.1,485.6 635.3,488.1 625.2,476.7 620.2,465.4 610.1,459.1 600.0,452.8Z M605.0,462.8 618.9,469.2 622.2,484.3 616.4,500.7 617.7,520.9 610.1,532.2 600.0,536.0 600.0,510.8 607.6,500.7 609.6,483.0Z M646.7,486.8 656.8,485.6 655.5,493.1 647.9,494.4Z M645.4,529.7 656.8,527.2 656.8,532.2 646.7,533.5Z M683.3,447.7 743.8,447.7 741.3,462.8 745.1,475.5 751.4,490.6 761.5,493.1 759.0,499.4 751.4,500.7 748.9,510.8 743.8,520.9 751.4,531.0 753.9,543.6 761.5,549.9 741.3,551.2 713.5,549.9 700.9,543.6 685.8,541.1 675.7,536.0 670.6,531.0 678.2,523.4 673.2,513.3 668.1,503.2 675.7,500.7 685.8,510.8 693.4,508.3 688.3,498.2 680.7,495.6 685.8,485.6 675.7,480.5 685.8,475.5 683.3,462.8Z M702.2,553.7 771.6,553.7 772.8,562.5 764.0,565.0 753.9,571.3 751.4,581.4 738.8,589.0 731.2,586.5 731.2,576.4 721.1,573.9 718.6,584.0 711.0,586.5 708.5,576.4 700.9,573.9Z M673.2,592.8 683.3,591.5 684.5,611.7 678.2,614.2 675.7,601.6Z M692.1,596.6 700.9,590.3 699.7,596.6 694.6,600.4Z M600.0,590.3 610.1,591.5 612.6,601.6 617.7,614.2 612.6,611.7 605.0,601.6 600.0,599.1Z M656.8,584.0 661.8,582.7 661.8,591.5 658.0,590.3Z M666.9,626.9 673.2,625.6 675.7,636.9 688.3,624.3 689.6,644.5 673.2,650.1 666.9,647.0Z M1270.6,517.1 1284.5,504.5 1287.0,507.0 1273.2,519.6Z M447.9,609.6 454.2,608.8 454.2,613.1 448.4,613.9Z M606.9,600.0 614.5,601.3 618.3,612.6 614.5,615.1 609.4,607.6Z M677.5,600.0 685.1,600.0 683.9,612.6 677.5,613.9Z M664.9,629.0 690.2,624.0 690.2,632.8 680.1,635.3 687.6,639.1 688.9,645.4 672.5,649.2 670.0,642.9 675.0,637.8 664.9,635.3Z M680.0,640.0 690.1,640.0 688.8,646.3 680.0,645.0Z M1182.8,300.1 1189.7,300.1 1190.4,307.6 1195.4,310.8 1202.9,311.4 1202.9,317.7 1194.1,316.4 1187.9,310.1Z M1155.2,320.2 1162.8,319.5 1160.3,325.2 1156.5,325.8Z M1151.5,329.0 1154.6,327.1 1154.0,330.2 1152.1,331.5Z M1145.2,339.0 1149.0,335.2 1150.2,339.0 1146.4,342.1Z M1170.3,322.7 1175.3,320.2 1181.6,323.9 1190.4,327.7 1199.2,330.8 1204.2,333.3 1205.4,342.8 1200.4,342.8 1195.4,342.1 1192.9,345.3 1187.9,350.3 1187.9,356.6 1180.3,361.6 1175.3,366.6 1172.8,367.9 1177.8,360.3 1172.8,355.3 1175.3,352.8 1167.8,352.8 1165.3,347.8 1170.3,342.8 1174.1,334.0 1170.3,330.2Z M1192.9,349.0 1199.2,347.8 1197.9,354.1Z M1160.9,362.8 1164.0,363.5 1163.4,367.9 1161.5,367.2Z M1420.4,403.0 1426.4,403.5 1425.9,408.1 1421.4,410.6Z M1386.1,404.0 1392.1,406.1 1401.2,404.5 1400.2,414.1 1395.1,420.2 1386.1,424.2 1380.0,418.2 1380.0,411.1Z M595.3,560.3 599.4,560.3 601.4,570.4 597.4,572.4 594.3,566.3Z M597.4,596.6 603.4,590.6 611.5,592.6 611.5,600.6 617.5,608.7 617.5,614.8 611.5,610.7 607.4,602.7 599.4,601.7Z M495.4,622.9 501.5,621.8 502.5,628.9 497.4,629.9Z M1417.0,343.0 1455.1,341.9 1451.7,349.8 1445.0,356.5 1437.2,355.4 1433.8,362.1 1432.0,375.6 1429.8,384.5 1428.2,398.0 1420.4,398.0 1419.2,384.5 1421.5,366.6 1418.1,355.4Z M1436.1,384.5 1441.7,382.3 1440.5,389.0 1436.5,390.1Z"/></clipPath>
<filter id="rough" x="0" y="0" width="1" height="1" color-interpolation-filters="sRGB"><feTurbulence type="fractalNoise" baseFrequency="0.11" numOctaves="2" seed="11" result="t"/><feDisplacementMap in="SourceGraphic" in2="t" scale="9" xChannelSelector="R" yChannelSelector="G"/></filter>
<filter id="s1" x="0" y="0" width="1" height="1" filterUnits="objectBoundingBox" color-interpolation-filters="sRGB"><feTurbulence type="fractalNoise" baseFrequency="0.22" numOctaves="2" seed="3"/><feColorMatrix type="matrix" values="0 0 0 0 0 0 0 0 0 0 0 0 0 0 0 60 0 0 0 -33"/><feComposite in="SourceGraphic" operator="in"/></filter>
<filter id="s2" x="0" y="0" width="1" height="1" filterUnits="objectBoundingBox" color-interpolation-filters="sRGB"><feTurbulence type="fractalNoise" baseFrequency="0.22" numOctaves="2" seed="8"/><feColorMatrix type="matrix" values="0 0 0 0 0 0 0 0 0 0 0 0 0 0 0 60 0 0 0 -33"/><feComposite in="SourceGraphic" operator="in"/></filter>
<filter id="s3" x="0" y="0" width="1" height="1" filterUnits="objectBoundingBox" color-interpolation-filters="sRGB"><feTurbulence type="fractalNoise" baseFrequency="0.3" numOctaves="2" seed="21"/><feColorMatrix type="matrix" values="0 0 0 0 0 0 0 0 0 0 0 0 0 0 0 60 0 0 0 -34"/><feComposite in="SourceGraphic" operator="in"/></filter>
<filter id="s4" x="0" y="0" width="1" height="1" filterUnits="objectBoundingBox" color-interpolation-filters="sRGB"><feTurbulence type="fractalNoise" baseFrequency="0.18" numOctaves="2" seed="5"/><feColorMatrix type="matrix" values="0 0 0 0 0 0 0 0 0 0 0 0 0 0 0 60 0 0 0 -33"/><feComposite in="SourceGraphic" operator="in"/></filter>
<filter id="s5" x="0" y="0" width="1" height="1" filterUnits="objectBoundingBox" color-interpolation-filters="sRGB"><feTurbulence type="fractalNoise" baseFrequency="0.18" numOctaves="2" seed="14"/><feColorMatrix type="matrix" values="0 0 0 0 0 0 0 0 0 0 0 0 0 0 0 60 0 0 0 -33"/><feComposite in="SourceGraphic" operator="in"/></filter>
<filter id="s6" x="0" y="0" width="1" height="1" filterUnits="objectBoundingBox" color-interpolation-filters="sRGB"><feTurbulence type="fractalNoise" baseFrequency="0.35" numOctaves="2" seed="30"/><feColorMatrix type="matrix" values="0 0 0 0 0 0 0 0 0 0 0 0 0 0 0 60 0 0 0 -39.5"/><feComposite in="SourceGraphic" operator="in"/></filter>
<filter id="s7" x="0" y="0" width="1" height="1" filterUnits="objectBoundingBox" color-interpolation-filters="sRGB"><feTurbulence type="fractalNoise" baseFrequency="0.2" numOctaves="2" seed="41"/><feColorMatrix type="matrix" values="0 0 0 0 0 0 0 0 0 0 0 0 0 0 0 60 0 0 0 -41.5"/><feComposite in="SourceGraphic" operator="in"/></filter>
<filter id="s8" x="0" y="0" width="1" height="1" filterUnits="objectBoundingBox" color-interpolation-filters="sRGB"><feTurbulence type="fractalNoise" baseFrequency="0.28" numOctaves="2" seed="52"/><feColorMatrix type="matrix" values="0 0 0 0 0 0 0 0 0 0 0 0 0 0 0 60 0 0 0 -45"/><feComposite in="SourceGraphic" operator="in"/></filter>
<clipPath id="west"><rect x="320" y="215" width="450" height="670"/></clipPath>
</defs>
<g id="map">
<path d="M375.2,235.3 900.0,235.3 956.0,235.3 956.0,226.5 965.1,226.5 966.9,239.1 973.2,242.9 983.3,244.2 987.0,247.4 998.4,244.9 1008.5,247.4 1014.8,253.5 1023.6,253.0 1031.2,258.5 1040.0,259.3 1047.6,255.0 1057.7,258.0 1076.6,261.3 1064.0,266.1 1051.4,273.2 1041.3,280.7 1031.2,288.3 1020.6,295.9 1036.2,292.9 1045.8,293.9 1048.9,298.4 1053.9,298.4 1061.5,297.1 1076.6,291.3 1089.2,287.0 1099.3,280.2 1106.9,276.5 1113.2,275.7 1112.7,279.5 1104.4,284.5 1098.1,289.6 1099.3,293.4 1109.4,294.6 1119.5,299.7 1128.3,302.2 1139.7,299.7 1149.8,296.6 1164.9,294.6 1172.0,294.6 1173.0,300.9 1180.1,303.4 1187.6,305.5 1192.7,313.5 1187.6,315.6 1177.5,314.8 1167.5,312.8 1157.4,313.5 1148.5,316.1 1139.7,317.3 1128.3,317.3 1124.6,323.6 1119.5,331.2 1115.7,337.5 1111.9,345.1 1107.4,351.4 1110.7,350.9 1119.5,340.0 1127.1,333.2 1128.3,335.0 1124.6,342.6 1117.0,352.6 1114.0,357.7 1111.9,364.0 1109.4,376.6 1110.7,391.8 1110.7,393.5 1112.3,400.2 1111.8,406.9 1110.7,412.5 1113.5,418.1 1115.7,423.7 1116.8,427.1 1121.3,429.3 1125.8,428.2 1131.4,425.4 1135.9,423.2 1138.1,418.1 1142.6,411.4 1145.4,404.7 1146.0,396.8 1144.7,394.3 1141.0,381.7 1138.4,366.5 1142.2,351.4 1146.0,341.3 1154.8,333.7 1158.6,341.3 1161.1,336.2 1162.4,326.2 1172.5,319.8 1175.3,319.5 1181.6,323.3 1190.4,327.1 1199.2,330.2 1204.2,332.7 1207.3,339.0 1204.2,342.8 1206.7,347.8 1206.7,354.1 1202.9,359.1 1200.4,364.1 1194.1,366.6 1192.3,372.9 1196.7,377.9 1201.7,375.4 1206.7,367.9 1213.0,365.4 1218.6,367.9 1221.8,376.7 1223.6,386.7 1224.9,392.0 1224.4,393.5 1222.8,401.3 1220.5,405.2 1217.2,402.4 1214.9,408.0 1210.4,410.8 1208.7,417.0 1205.9,422.0 1203.1,425.4 1208.7,429.3 1213.2,432.7 1215.5,431.0 1218.8,433.3 1223.3,436.1 1232.3,432.7 1239.0,432.7 1245.7,427.1 1250.2,423.7 1257.0,422.0 1264.8,419.8 1272.6,415.9 1279.4,412.5 1288.3,407.5 1293.9,404.7 1297.3,400.2 1300.0,399.1 1298.4,394.3 1295.9,388.0 1308.5,384.2 1326.2,387.2 1341.3,384.2 1351.4,380.4 1353.9,374.1 1351.4,365.3 1361.5,359.0 1371.6,348.9 1384.2,340.8 1414.5,340.0 1454.8,339.5 1458.6,332.5 1465.0,330.8 1472.8,323.8 1481.2,314.0 1482.6,305.6 1486.8,295.8 1495.2,284.6 1503.6,275.4 1507.8,276.2 1507.8,281.8 1520.4,278.2 1530.3,280.4 1534.5,287.4 1535.0,308.4 1537.3,319.6 1541.5,326.6 1542.9,335.0 1549.9,340.6 1551.3,344.8 1545.7,349.0 1534.5,351.8 1523.2,356.1 1512.0,359.4 1509.8,353.2 1506.4,361.7 1498.0,367.3 1489.6,374.3 1481.2,377.1 1475.6,385.5 1470.0,395.3 1467.2,398.1 1467.8,400.0 1471.8,403.0 1468.8,406.1 1464.8,410.1 1466.8,413.1 1470.8,415.1 1472.9,420.2 1474.9,424.2 1475.9,427.2 1470.8,430.3 1464.8,433.3 1458.7,435.3 1454.7,433.3 1450.6,436.3 1444.6,438.4 1436.5,438.9 1428.4,439.4 1423.4,438.9 1418.4,441.4 1412.3,443.4 1408.3,444.1 1403.2,447.4 1399.2,454.5 1402.7,460.6 1403.2,466.9 1400.5,475.9 1395.1,484.9 1389.7,492.0 1384.3,499.2 1378.9,493.8 1373.6,490.2 1370.0,484.9 1370.9,478.6 1371.8,484.9 1374.5,493.8 1378.9,504.6 1379.8,514.5 1378.9,522.5 1374.5,529.7 1368.2,536.9 1362.8,545.9 1361.0,549.4 1360.1,554.8 1362.8,563.8 1365.5,571.0 1369.1,580.0 1370.0,583.5 1371.6,594.0 1361.5,599.1 1356.4,601.6 1351.4,609.2 1341.3,613.0 1317.2,629.5 1307.4,634.4 1297.6,640.9 1291.0,649.1 1284.5,657.3 1274.6,665.5 1264.8,673.7 1258.3,681.9 1253.3,690.1 1248.4,701.5 1245.2,714.6 1245.8,724.5 1250.1,740.8 1255.0,757.2 1259.9,770.3 1264.8,783.4 1269.7,796.5 1274.0,812.9 1275.3,829.3 1274.0,845.6 1269.7,855.5 1261.5,862.0 1253.3,862.0 1250.1,858.7 1243.5,848.9 1238.6,839.1 1237.0,829.3 1232.1,819.4 1227.1,812.9 1223.9,803.1 1219.0,796.5 1217.3,790.0 1220.6,783.4 1219.0,770.3 1215.7,760.5 1209.1,750.7 1202.6,742.5 1192.8,735.9 1186.2,734.3 1176.4,739.2 1166.6,742.5 1160.0,740.8 1159.3,736.2 1151.8,728.7 1141.7,723.6 1126.5,723.6 1116.4,726.2 1111.4,728.7 1108.9,723.6 1106.3,716.1 1105.1,728.7 1097.5,724.9 1086.2,726.2 1074.8,731.2 1084.9,731.2 1082.4,737.5 1074.8,743.8 1078.6,750.9 1085.7,759.0 1078.1,762.7 1073.5,752.6 1068.0,749.4 1066.0,756.4 1057.1,754.4 1047.0,758.5 1039.5,752.6 1031.9,745.1 1024.3,740.8 1020.6,743.8 1013.0,744.3 997.8,741.3 984.0,742.6 980.0,743.4 970.2,747.2 962.6,748.5 965.1,742.2 960.1,751.0 955.0,761.1 942.4,768.7 932.3,776.2 928.5,772.5 922.2,777.5 914.7,785.1 907.1,791.4 905.8,799.0 902.0,805.3 908.3,806.5 907.1,814.1 910.9,826.7 914.7,840.6 909.6,843.1 897.0,840.6 886.9,835.5 874.3,830.5 869.2,821.7 866.7,811.6 861.7,799.0 851.6,786.3 844.0,773.7 839.0,761.1 831.4,751.0 823.8,742.2 811.2,742.2 803.6,740.9 796.1,746.0 792.3,758.6 787.2,763.6 778.4,757.3 768.3,751.0 760.7,743.4 755.7,733.4 751.9,720.7 743.1,714.4 733.0,704.3 722.9,698.0 715.3,688.4 680.0,688.4 700.0,688.3 681.3,688.8 681.3,700.9 662.4,700.9 619.5,700.9 542.6,671.9 541.3,665.1 493.4,668.6 490.8,660.6 485.8,650.5 475.7,639.1 468.1,636.6 466.9,631.5 460.6,629.0 450.5,625.2 442.9,620.2 425.2,617.7 420.2,612.6 418.9,600.0 418.6,601.6 413.5,594.0 406.0,584.0 398.4,573.9 392.1,566.3 394.6,562.5 395.9,553.7 388.3,551.2 383.3,541.1 388.3,538.5 383.3,533.5 382.0,524.7 375.7,525.9 370.6,520.9 363.1,508.3 354.2,498.2 353.0,483.0 347.9,470.4 340.4,460.3 344.2,447.7 347.9,435.1 344.2,425.0 341.6,417.5 340.4,406.9 337.8,396.8 342.9,381.7 345.4,366.5 346.7,351.4 349.2,331.2 350.5,318.6 347.9,308.5 349.2,298.4 351.7,290.8 347.9,289.6 345.4,280.7 341.6,269.4 336.6,260.6 333.3,251.7 345.4,254.2 360.6,256.8 371.9,256.8 373.2,242.9 375.2,235.3Z" fill="#e5e5e5" stroke="none"/>
<path d="M1407.0,445.6 1414.3,446.2 1423.4,444.7 1432.5,442.2 1437.0,441.6 1439.7,442.8 1436.5,444.2 1444.6,443.4 1447.8,444.6 1442.6,447.4 1436.5,450.5 1427.4,454.5 1418.4,457.3 1405.2,458.0 1399.2,456.0 1404.2,450.5Z" fill="#e5e5e5" stroke="#000" stroke-width="3" stroke-linejoin="round"/>
<path d="M1214.0,879.0 1228.8,878.4 1241.9,875.8 1255.0,871.2 1264.8,865.9 1273.0,856.1" fill="none" stroke="#e0e0e0" stroke-width="3" stroke-dasharray="7 3"/>
<path d="M424.0,629.0 445.4,629.0 445.4,632.8 424.0,632.8Z" fill="#e2e2e2"/>
<path d="M441.6,649.2 445.4,649.2 445.4,654.2 441.6,653.0Z" fill="#e2e2e2"/>
<path d="M461.8,644.2 468.1,645.4 468.6,663.1 463.1,660.6Z" fill="#e2e2e2"/>
<path d="M1080.4,264.8 1088.0,260.1 1096.8,256.5 1098.6,259.0 1091.8,263.1 1082.9,268.1Z" fill="#0a5ae6"/>
<path d="M1045.1,288.3 1057.7,284.5 1057.7,289.6 1048.9,291.3Z" fill="#00b9ff"/>
<path d="M1182.8,300.1 1189.7,300.1 1190.4,307.6 1195.4,310.8 1202.9,311.4 1202.9,317.7 1194.1,316.4 1187.9,310.1Z" fill="#00b9ff"/>
<g clip-path="url(#us)"><g filter="url(#rough)">
<rect x="0" y="0" width="2100" height="892" fill="none"/>
<path d="M375.2,235.8 441.3,235.8 436.2,245.4 431.2,254.2 432.5,263.1 426.2,273.2 418.6,283.3 414.8,295.9 413.5,306.0 418.6,312.3 411.0,318.6 400.9,322.4 384.5,324.9 375.7,323.1 373.2,317.3 366.9,310.5 349.2,308.5 349.2,298.4 351.7,290.8 347.9,289.6 345.4,280.7 341.6,269.4 336.6,260.6 333.3,251.7 345.4,254.2 360.6,256.8 371.9,256.8Z M448.9,235.8 494.3,235.8 494.3,283.3 489.2,275.7 485.4,265.6 476.6,258.0 474.1,250.5 464.0,246.7 453.9,250.5 448.9,242.9Z M349.2,318.6 360.6,321.1 359.3,341.3 355.5,361.5 354.2,381.7 353.0,401.9 358.0,417.5 341.6,417.5 340.4,406.9 337.8,396.8 342.9,381.7 345.4,366.5 346.7,351.4 349.2,331.2Z M375.7,324.9 400.9,323.6 403.4,336.2 408.5,351.4 418.6,348.9 431.2,341.3 441.3,333.7 461.5,326.2 476.6,318.6 494.3,316.1 501.9,318.6 505.6,326.2 503.1,337.5 491.8,351.4 484.2,356.4 481.7,371.6 474.1,381.7 464.0,391.8 456.4,401.9 451.4,417.5 375.7,417.5 373.2,401.9 378.2,381.7 383.3,361.5 383.3,341.3 375.7,331.2Z M496.8,235.8 600.0,235.8 600.0,376.6 587.6,381.7 577.5,388.0 562.4,386.7 552.3,391.8 537.2,388.0 527.1,385.4 519.5,376.6 514.5,371.6 514.5,356.4 511.9,341.3 509.4,326.2 514.5,311.0 519.5,300.9 517.0,290.8 509.4,285.8 501.9,283.3 496.8,275.7Z M499.3,389.2 514.5,393.0 522.0,401.9 537.2,405.6 549.8,411.9 552.3,417.5 499.3,417.5Z M580.1,404.4 600.0,399.3 600.0,417.5 582.6,417.5Z M474.1,376.6 481.7,377.9 476.6,386.7 471.6,385.4Z M486.7,391.8 494.3,390.5 494.3,401.9 488.0,399.3Z M600.0,235.8 766.5,235.8 766.5,247.9 756.4,250.5 746.3,249.2 741.3,254.2 726.2,254.2 718.6,249.2 708.5,246.7 700.9,244.2 685.8,246.7 673.2,250.5 668.1,256.8 658.0,264.3 650.5,260.6 644.2,254.2 645.4,246.7 635.3,254.2 626.5,260.6 618.9,268.1 612.6,275.7 622.7,275.7 632.8,273.2 650.5,278.2 665.6,280.7 673.2,293.4 675.7,298.4 660.6,306.0 668.1,316.1 661.8,323.6 655.5,331.2 663.1,338.8 621.4,340.0 600.0,341.3Z M670.6,328.7 679.5,327.4 680.7,336.2 673.2,337.5Z M684.5,335.0 711.0,331.2 711.0,338.8 685.8,339.3Z M736.2,283.3 742.6,280.2 741.3,285.8Z M771.6,235.8 900.0,235.8 900.0,254.2 892.7,254.2 885.1,249.2 872.5,256.8 867.5,260.6 854.8,256.8 848.5,250.5 846.0,242.9 834.7,244.2 819.5,245.4 817.0,250.5 824.6,259.3 822.0,266.9 814.5,268.1 806.9,264.3 791.8,259.3 781.7,256.8 774.1,251.7 771.6,254.2Z M782.9,275.7 791.8,275.7 794.3,283.3 801.9,287.0 806.9,295.9 801.9,298.4 794.3,292.1 788.0,288.3 781.7,283.3Z M804.4,275.7 817.0,273.2 827.1,278.2 827.1,285.8 817.0,292.1 809.4,289.6 803.1,284.5Z M857.4,297.1 863.7,294.6 864.9,308.5 859.9,311.0Z M801.9,298.4 811.9,300.9 810.7,304.7 801.9,302.2Z M622.7,341.3 663.1,341.3 668.1,348.9 673.2,361.5 675.7,376.6 683.3,381.7 670.6,389.2 669.4,399.3 675.7,404.4 695.9,401.9 697.1,391.8 693.4,384.2 700.9,376.6 711.0,374.1 706.0,361.5 700.9,353.9 687.0,345.1 690.8,342.6 700.9,346.3 711.0,353.9 713.5,364.0 711.0,376.6 706.0,386.7 711.0,391.8 726.2,386.7 728.7,374.1 735.0,367.8 741.3,374.1 736.2,381.7 733.7,390.5 721.1,394.3 711.0,399.3 703.4,409.4 711.0,414.5 718.6,404.4 731.2,400.6 741.3,406.9 743.8,417.0 736.2,425.1 622.7,425.1Z M600.0,341.3 621.4,341.3 621.4,425.1 600.0,425.1Z M752.6,347.6 761.5,343.8 766.5,351.4 766.5,364.0 760.2,361.5 755.2,353.9Z M755.2,399.3 761.5,398.1 761.5,403.9 755.9,404.4Z M900.0,237.8 911.4,237.8 911.4,245.4 900.0,246.7Z M903.8,274.4 910.1,271.4 914.6,275.7 910.1,281.2 905.0,280.2Z M921.4,237.8 956.8,237.8 956.8,227.8 964.3,227.8 966.9,239.1 973.2,243.4 983.3,244.9 987.0,247.9 998.4,245.4 1008.5,247.9 1014.8,254.0 1023.6,253.5 1031.2,259.0 1040.0,259.8 1047.6,255.5 1057.7,258.5 1075.4,261.3 1064.0,266.1 1051.4,273.2 1041.3,280.7 1031.2,288.3 1021.1,295.4 1017.3,298.4 1016.1,308.5 1006.0,307.2 995.9,311.0 988.3,308.5 987.0,300.9 980.7,293.4 970.6,283.3 958.0,266.9 960.6,261.8 942.9,259.3 930.3,250.5 925.2,242.9Z M949.2,273.2 958.0,268.1 973.2,273.2 982.0,278.2 980.7,285.8 973.2,290.8 975.7,295.9 968.1,298.4 963.1,290.8 954.2,289.6 947.9,282.0Z M1018.6,297.1 1036.2,293.4 1045.8,294.6 1048.9,298.9 1061.5,300.9 1076.6,306.0 1091.8,311.0 1104.4,315.6 1108.2,321.1 1109.4,331.2 1099.3,333.7 1094.3,341.3 1088.0,345.1 1076.6,343.8 1071.6,337.5 1064.0,341.3 1059.0,337.5 1051.4,328.7 1045.1,323.6 1041.3,317.3 1036.2,319.8 1032.5,326.2 1029.9,318.6 1023.6,311.0 1018.6,308.5Z M1045.1,288.3 1057.7,284.5 1057.7,289.6 1048.9,291.3Z M1061.5,297.1 1076.6,291.3 1089.2,287.0 1099.3,280.2 1106.9,276.5 1113.2,275.7 1112.7,279.5 1104.4,284.5 1098.1,289.6 1099.3,293.4 1109.4,294.6 1119.5,299.7 1128.3,302.2 1139.7,299.7 1149.8,296.6 1164.9,294.6 1172.0,294.6 1173.0,300.9 1180.1,303.4 1187.6,305.5 1200.0,311.0 1200.0,316.1 1187.6,315.6 1177.5,314.8 1167.5,312.8 1157.4,313.5 1148.5,316.1 1139.7,317.3 1128.3,317.3 1124.6,323.6 1119.5,331.2 1115.7,337.5 1111.9,331.2 1108.2,321.1 1104.4,315.6 1091.8,311.0 1076.6,306.0 1061.5,300.9Z M1154.8,319.8 1161.1,318.6 1159.9,326.2 1154.8,326.2Z M1146.0,336.2 1151.1,335.0 1149.8,341.3Z M1200.0,311.0 1202.5,311.0 1203.0,318.6 1200.0,318.6Z M1386.7,351.4 1399.3,345.1 1410.7,343.8 1410.7,356.4 1406.9,371.6 1403.1,381.7 1403.1,391.8 1394.3,393.0 1386.7,388.0 1376.6,384.2 1374.1,376.6 1367.8,382.9 1361.5,376.6 1364.0,370.3 1371.6,371.6 1376.6,364.0 1381.7,357.7Z M1419.5,401.9 1427.1,403.1 1424.6,410.7 1420.8,409.4Z M1455.3,340.0 1458.6,333.7 1463.7,332.5 1464.4,361.5 1459.9,364.0 1457.4,374.1 1449.8,376.6 1443.5,376.6 1446.0,364.0 1452.3,351.4Z M1464.4,333.7 1472.5,327.9 1477.5,319.1 1480.1,309.0 1485.1,296.4 1492.7,286.3 1500.0,277.5 1500.0,341.3 1492.7,346.3 1487.6,353.9 1477.5,360.2 1470.0,359.0 1464.9,361.5Z M1376.6,414.5 1384.2,404.4 1391.8,403.1 1400.6,405.6 1399.3,414.5 1394.3,419.5 1386.7,422.0 1380.4,419.5Z M1303.4,410.7 1311.0,408.9 1309.8,413.2 1304.7,414.0Z M1360.2,400.6 1367.8,399.8 1366.5,404.4 1361.5,405.6Z M1465.0,330.8 1472.8,323.8 1481.2,314.0 1482.6,305.6 1486.8,295.8 1495.2,284.6 1503.6,275.4 1507.8,276.2 1507.8,281.8 1520.4,278.2 1530.3,280.4 1534.5,287.4 1535.0,308.4 1537.3,319.6 1541.5,326.6 1542.9,335.0 1549.9,340.6 1551.3,344.8 1545.7,349.0 1534.5,351.8 1523.2,356.1 1512.0,359.4 1509.8,353.2 1512.0,351.8 1520.4,342.0 1517.6,334.2 1506.4,337.8 1492.4,344.8 1481.2,353.2 1467.2,364.5 1466.1,342.0Z M1506.4,361.7 1512.0,359.4 1512.0,370.1 1507.8,368.7Z M1460.2,333.6 1465.8,331.4 1465.8,361.7 1460.2,364.5 1456.0,375.7 1446.2,379.9 1442.0,370.1 1447.6,356.1 1456.0,342.0Z M1400.0,342.0 1412.6,342.0 1412.6,356.1 1409.8,370.1 1405.6,381.3 1400.0,382.7Z M1421.0,402.3 1426.6,403.1 1425.2,409.3 1421.8,409.3Z M364.3,428.8 375.7,427.0 378.7,436.4 371.2,443.2 365.1,438.1Z M346.7,446.4 351.7,445.2 353.0,457.8 347.9,462.8 344.2,455.3Z M384.5,425.0 431.2,425.0 431.2,440.1 418.6,445.2 416.1,455.3 421.1,467.9 431.2,485.6 431.2,498.2 426.2,488.1 418.6,475.5 408.5,470.4 400.9,465.4 395.9,452.8 400.9,445.2 393.4,437.6Z M414.8,467.9 431.2,488.1 433.7,500.7 451.4,510.8 464.0,525.9 461.5,536.0 466.5,543.6 474.1,551.2 476.6,566.3 474.1,581.4 464.0,582.7 461.5,568.8 451.4,551.2 441.3,533.5 431.2,515.8 423.6,498.2 413.5,480.5Z M435.0,425.0 461.5,425.0 459.0,437.6 446.3,445.2 437.5,440.1Z M499.3,435.1 519.5,425.0 557.4,425.0 557.4,455.3 547.3,452.8 537.2,440.1 527.1,450.2 517.0,440.1 506.9,442.7Z M479.1,483.0 494.3,478.0 501.9,488.1 496.8,498.2 489.2,508.3 481.7,498.2Z M496.8,500.7 509.4,475.5 519.5,480.5 514.5,500.7 504.4,518.4 496.8,513.3Z M524.6,480.5 542.2,472.9 549.8,488.1 542.2,505.7 532.1,500.7Z M527.1,455.3 539.7,447.7 542.2,467.9 532.1,472.9Z M552.3,480.5 557.4,483.0 556.1,503.2 552.3,500.7Z M577.5,536.0 587.6,525.9 600.0,510.8 600.0,541.1 585.1,543.6Z M448.9,610.4 453.9,609.2 453.4,613.7 449.4,614.2Z M495.5,623.1 501.9,621.8 501.9,629.4 496.8,629.9Z M519.5,568.8 524.6,568.3 524.6,572.6 520.0,572.6Z M593.9,561.2 599.0,560.0 600.0,571.3 595.2,570.1Z M622.7,425.0 766.5,425.0 766.5,440.1 756.4,443.9 622.7,443.9Z M600.0,430.0 620.2,447.2 660.6,448.2 654.2,457.8 637.8,462.8 632.8,475.5 639.1,485.6 635.3,488.1 625.2,476.7 620.2,465.4 610.1,459.1 600.0,452.8Z M605.0,462.8 618.9,469.2 622.2,484.3 616.4,500.7 617.7,520.9 610.1,532.2 600.0,536.0 600.0,510.8 607.6,500.7 609.6,483.0Z M646.7,486.8 656.8,485.6 655.5,493.1 647.9,494.4Z M645.4,529.7 656.8,527.2 656.8,532.2 646.7,533.5Z M683.3,447.7 743.8,447.7 741.3,462.8 745.1,475.5 751.4,490.6 761.5,493.1 759.0,499.4 751.4,500.7 748.9,510.8 743.8,520.9 751.4,531.0 753.9,543.6 761.5,549.9 741.3,551.2 713.5,549.9 700.9,543.6 685.8,541.1 675.7,536.0 670.6,531.0 678.2,523.4 673.2,513.3 668.1,503.2 675.7,500.7 685.8,510.8 693.4,508.3 688.3,498.2 680.7,495.6 685.8,485.6 675.7,480.5 685.8,475.5 683.3,462.8Z M702.2,553.7 771.6,553.7 772.8,562.5 764.0,565.0 753.9,571.3 751.4,581.4 738.8,589.0 731.2,586.5 731.2,576.4 721.1,573.9 718.6,584.0 711.0,586.5 708.5,576.4 700.9,573.9Z M673.2,592.8 683.3,591.5 684.5,611.7 678.2,614.2 675.7,601.6Z M692.1,596.6 700.9,590.3 699.7,596.6 694.6,600.4Z M600.0,590.3 610.1,591.5 612.6,601.6 617.7,614.2 612.6,611.7 605.0,601.6 600.0,599.1Z M656.8,584.0 661.8,582.7 661.8,591.5 658.0,590.3Z M666.9,626.9 673.2,625.6 675.7,636.9 688.3,624.3 689.6,644.5 673.2,650.1 666.9,647.0Z M1270.6,517.1 1284.5,504.5 1287.0,507.0 1273.2,519.6Z M447.9,609.6 454.2,608.8 454.2,613.1 448.4,613.9Z M606.9,600.0 614.5,601.3 618.3,612.6 614.5,615.1 609.4,607.6Z M677.5,600.0 685.1,600.0 683.9,612.6 677.5,613.9Z M664.9,629.0 690.2,624.0 690.2,632.8 680.1,635.3 687.6,639.1 688.9,645.4 672.5,649.2 670.0,642.9 675.0,637.8 664.9,635.3Z M680.0,640.0 690.1,640.0 688.8,646.3 680.0,645.0Z M1182.8,300.1 1189.7,300.1 1190.4,307.6 1195.4,310.8 1202.9,311.4 1202.9,317.7 1194.1,316.4 1187.9,310.1Z M1155.2,320.2 1162.8,319.5 1160.3,325.2 1156.5,325.8Z M1151.5,329.0 1154.6,327.1 1154.0,330.2 1152.1,331.5Z M1145.2,339.0 1149.0,335.2 1150.2,339.0 1146.4,342.1Z M1170.3,322.7 1175.3,320.2 1181.6,323.9 1190.4,327.7 1199.2,330.8 1204.2,333.3 1205.4,342.8 1200.4,342.8 1195.4,342.1 1192.9,345.3 1187.9,350.3 1187.9,356.6 1180.3,361.6 1175.3,366.6 1172.8,367.9 1177.8,360.3 1172.8,355.3 1175.3,352.8 1167.8,352.8 1165.3,347.8 1170.3,342.8 1174.1,334.0 1170.3,330.2Z M1192.9,349.0 1199.2,347.8 1197.9,354.1Z M1160.9,362.8 1164.0,363.5 1163.4,367.9 1161.5,367.2Z M1420.4,403.0 1426.4,403.5 1425.9,408.1 1421.4,410.6Z M1386.1,404.0 1392.1,406.1 1401.2,404.5 1400.2,414.1 1395.1,420.2 1386.1,424.2 1380.0,418.2 1380.0,411.1Z M595.3,560.3 599.4,560.3 601.4,570.4 597.4,572.4 594.3,566.3Z M597.4,596.6 603.4,590.6 611.5,592.6 611.5,600.6 617.5,608.7 617.5,614.8 611.5,610.7 607.4,602.7 599.4,601.7Z M495.4,622.9 501.5,621.8 502.5,628.9 497.4,629.9Z M1417.0,343.0 1455.1,341.9 1451.7,349.8 1445.0,356.5 1437.2,355.4 1433.8,362.1 1432.0,375.6 1429.8,384.5 1428.2,398.0 1420.4,398.0 1419.2,384.5 1421.5,366.6 1418.1,355.4Z M1436.1,384.5 1441.7,382.3 1440.5,389.0 1436.5,390.1Z" fill="#00b9ff" />
<g clip-path="url(#cLB)"><g clip-path="url(#west)"><rect x="320" y="215" width="1250" height="670" fill="#0a78f0" filter="url(#s7)"/><rect x="320" y="215" width="1250" height="670" fill="#0a46dc" filter="url(#s8)"/></g></g>
<path d="M335.3,254.2 363.1,258.0 364.3,273.2 354.2,283.3 345.4,280.7 341.6,269.4Z M385.8,240.4 418.6,237.8 426.2,250.5 421.1,265.6 418.6,283.3 411.0,300.9 400.9,311.0 385.8,311.0 383.3,295.9 388.3,283.3 390.8,265.6 388.3,250.5Z M380.7,331.2 400.9,326.2 406.0,351.4 418.6,361.5 441.3,361.5 461.5,356.4 466.5,366.5 451.4,381.7 431.2,386.7 418.6,399.3 408.5,414.5 385.8,414.5 383.3,391.8 388.3,371.6 385.8,351.4Z M519.5,237.8 600.0,237.8 600.0,348.9 582.6,351.4 571.2,341.3 564.9,328.7 559.9,321.1 553.6,324.9 549.8,318.6 553.6,300.9 542.2,293.4 527.1,275.7 519.5,263.1Z M514.5,311.0 547.3,311.0 552.3,331.2 567.5,346.3 577.5,361.5 572.5,376.6 552.3,384.2 527.1,376.6 517.0,356.4 511.9,336.2Z M605.0,278.2 630.3,275.7 650.5,280.7 668.1,285.8 671.9,298.4 658.0,303.4 660.6,316.1 650.5,326.2 640.4,336.2 600.0,338.8 600.0,285.8Z M600.0,356.4 621.4,361.5 621.4,425.1 600.0,425.1Z M624.0,366.5 670.6,364.0 675.7,381.7 668.1,399.3 675.7,425.1 624.0,425.1Z M718.6,401.9 731.2,399.3 741.3,406.9 740.0,417.0 726.2,418.3 717.3,411.9Z M771.6,356.4 781.7,357.7 784.2,366.5 779.1,376.6 771.6,375.4Z M1036.2,277.0 1053.9,261.8 1066.5,260.6 1051.4,269.4 1041.3,277.0Z M1023.6,278.7 1029.2,278.2 1029.9,282.8 1024.1,283.3Z M1080.4,264.3 1096.8,256.8 1098.1,259.3 1082.9,267.6Z M1394.3,361.5 1406.9,359.0 1404.4,371.6 1394.3,381.7 1386.7,384.2 1389.2,374.1Z M1442.2,361.5 1452.3,343.8 1453.6,351.4 1446.0,364.0 1441.0,374.1Z M1467.5,336.2 1477.5,331.2 1490.2,341.3 1482.6,348.9 1472.5,351.4 1466.2,346.3Z M1487.6,288.3 1500.0,280.7 1500.0,306.0 1492.7,303.4Z M1484.0,297.2 1495.2,284.6 1503.6,276.2 1507.8,277.6 1510.6,297.2 1495.2,302.8 1486.8,303.4Z M1470.0,328.0 1484.0,322.4 1492.4,326.6 1484.0,339.2 1472.8,344.8 1467.2,339.2Z M1450.4,347.6 1460.2,336.4 1465.0,342.0 1461.6,358.9 1453.2,361.7Z M441.3,531.0 451.4,536.0 466.5,556.2 471.6,576.4 465.3,578.9 456.4,556.2Z M514.5,430.0 537.2,427.5 534.7,440.1 522.0,437.6Z M624.0,425.0 751.4,425.0 746.3,442.7 624.0,443.2Z M605.0,440.1 620.2,450.2 650.5,450.7 637.8,457.8 627.8,462.8 615.1,455.3Z M608.8,470.4 617.7,474.2 613.9,500.7 613.9,520.9 607.6,528.4 602.5,520.9 608.8,500.7Z M693.4,450.2 741.3,450.2 741.3,475.5 748.9,495.6 743.8,520.9 748.9,543.6 718.6,548.6 713.5,531.0 695.9,520.9 693.4,500.7 700.9,488.1 695.9,470.4Z M711.0,554.9 751.4,554.9 748.9,576.4 736.2,586.5 731.2,576.4 721.1,566.3Z M603.8,594.0 610.1,594.0 610.1,599.1 604.5,599.1Z M647.9,625.6 660.6,626.9 661.8,642.0 653.0,642.0 649.2,634.4Z M495.9,622.7 502.2,622.2 502.2,629.0 497.1,629.8Z M647.3,625.2 661.1,626.5 661.1,641.6 649.8,640.4Z M731.7,645.0 738.0,647.6 739.3,665.2 733.0,665.2Z M603.4,592.6 610.5,593.6 610.5,598.6 604.4,598.6Z M647.8,626.9 653.9,623.9 660.9,628.9 660.9,641.0 653.9,643.0 648.8,637.0Z M578.2,536.1 587.3,530.0 605.4,530.0 603.4,538.1 591.3,542.1 581.2,543.1Z M414.8,467.9 431.2,488.1 433.7,500.7 451.4,510.8 464.0,525.9 461.5,536.0 466.5,543.6 474.1,551.2 476.6,566.3 474.1,581.4 464.0,582.7 461.5,568.8 451.4,551.2 441.3,533.5 431.2,515.8 423.6,498.2 413.5,480.5Z M435.0,425.0 461.5,425.0 459.0,437.6 446.3,445.2 437.5,440.1Z M499.3,435.1 519.5,425.0 557.4,425.0 557.4,455.3 547.3,452.8 537.2,440.1 527.1,450.2 517.0,440.1 506.9,442.7Z M479.1,483.0 494.3,478.0 501.9,488.1 496.8,498.2 489.2,508.3 481.7,498.2Z M496.8,500.7 509.4,475.5 519.5,480.5 514.5,500.7 504.4,518.4 496.8,513.3Z M524.6,480.5 542.2,472.9 549.8,488.1 542.2,505.7 532.1,500.7Z M527.1,455.3 539.7,447.7 542.2,467.9 532.1,472.9Z M552.3,480.5 557.4,483.0 556.1,503.2 552.3,500.7Z M577.5,536.0 587.6,525.9 600.0,510.8 600.0,541.1 585.1,543.6Z M448.9,610.4 453.9,609.2 453.4,613.7 449.4,614.2Z M495.5,623.1 501.9,621.8 501.9,629.4 496.8,629.9Z M519.5,568.8 524.6,568.3 524.6,572.6 520.0,572.6Z M593.9,561.2 599.0,560.0 600.0,571.3 595.2,570.1Z M600.0,430.0 620.2,447.2 660.6,448.2 654.2,457.8 637.8,462.8 632.8,475.5 639.1,485.6 635.3,488.1 625.2,476.7 620.2,465.4 610.1,459.1 600.0,452.8Z M605.0,462.8 618.9,469.2 622.2,484.3 616.4,500.7 617.7,520.9 610.1,532.2 600.0,536.0 600.0,510.8 607.6,500.7 609.6,483.0Z M646.7,486.8 656.8,485.6 655.5,493.1 647.9,494.4Z M645.4,529.7 656.8,527.2 656.8,532.2 646.7,533.5Z M673.2,592.8 683.3,591.5 684.5,611.7 678.2,614.2 675.7,601.6Z M692.1,596.6 700.9,590.3 699.7,596.6 694.6,600.4Z M600.0,590.3 610.1,591.5 612.6,601.6 617.7,614.2 612.6,611.7 605.0,601.6 600.0,599.1Z M656.8,584.0 661.8,582.7 661.8,591.5 658.0,590.3Z M666.9,626.9 673.2,625.6 675.7,636.9 688.3,624.3 689.6,644.5 673.2,650.1 666.9,647.0Z M447.9,609.6 454.2,608.8 454.2,613.1 448.4,613.9Z M606.9,600.0 614.5,601.3 618.3,612.6 614.5,615.1 609.4,607.6Z M677.5,600.0 685.1,600.0 683.9,612.6 677.5,613.9Z M664.9,629.0 690.2,624.0 690.2,632.8 680.1,635.3 687.6,639.1 688.9,645.4 672.5,649.2 670.0,642.9 675.0,637.8 664.9,635.3Z M680.0,640.0 690.1,640.0 688.8,646.3 680.0,645.0Z M595.3,560.3 599.4,560.3 601.4,570.4 597.4,572.4 594.3,566.3Z M597.4,596.6 603.4,590.6 611.5,592.6 611.5,600.6 617.5,608.7 617.5,614.8 611.5,610.7 607.4,602.7 599.4,601.7Z M495.4,622.9 501.5,621.8 502.5,628.9 497.4,629.9Z" fill="#0496f8" />
<g clip-path="url(#cMB)"><rect x="320" y="215" width="1250" height="670" fill="#0a5ce6" filter="url(#s1)"/><rect x="320" y="215" width="1250" height="670" fill="#00b4ff" filter="url(#s2)"/></g>
<path d="M393.4,371.6 413.5,369.0 421.1,376.6 408.5,386.7 400.9,401.9 390.8,401.9 389.6,386.7Z M433.7,366.5 451.4,365.3 453.9,372.8 441.3,376.6Z M522.0,316.1 542.2,313.5 549.8,336.2 562.4,351.4 567.5,369.0 552.3,376.6 532.1,366.5 522.0,346.3 517.0,331.2Z M527.1,240.4 590.2,240.4 595.2,275.7 577.5,290.8 557.4,285.8 537.2,270.6 527.1,255.5Z M562.4,300.9 597.7,295.9 597.7,341.3 582.6,346.3 567.5,326.2Z M615.1,283.3 627.8,279.5 640.4,284.5 645.4,295.9 637.8,306.0 640.4,316.1 630.3,318.6 622.7,308.5 612.6,300.9 607.6,290.8Z M650.5,290.8 660.6,289.6 663.1,295.9 654.2,298.4Z M646.7,254.2 656.8,253.0 658.0,259.3 650.5,260.6Z M632.8,394.3 645.4,386.7 665.6,409.4 658.0,419.5 647.9,417.0Z M625.2,401.9 642.9,406.9 650.5,425.1 625.2,425.1Z M685.8,343.8 706.0,361.5 709.8,376.6 700.9,384.2 697.1,374.1 699.7,364.0Z M723.6,404.4 733.7,403.1 737.5,411.9 727.4,414.5Z M772.3,360.2 779.1,361.5 779.6,369.0 772.8,370.3Z M1456.1,337.5 1463.7,336.2 1463.7,356.4 1454.8,353.9Z M1470.0,338.8 1480.1,336.2 1483.9,342.6 1475.0,346.3Z M1492.4,317.4 1498.0,316.8 1498.6,322.4 1493.0,323.0Z M1505.9,311.8 1510.9,311.2 1510.9,316.8 1506.4,316.8Z M1471.4,336.4 1479.8,333.6 1481.2,340.6 1473.4,342.6Z M397.1,452.8 411.0,451.5 416.1,460.3 411.0,466.6 400.9,465.4Z M418.6,472.9 431.2,490.6 435.0,503.2 441.3,513.3 436.2,520.9 426.2,500.7 418.6,483.0Z M448.9,515.8 461.5,525.9 459.0,536.0 451.4,531.0Z M695.9,430.0 741.3,427.5 741.3,442.7 700.9,442.7Z M700.9,455.3 736.2,452.8 736.2,475.5 721.1,483.0 706.0,475.5Z M723.6,500.7 746.3,495.6 741.3,515.8 726.2,513.3Z M721.1,525.9 741.3,523.4 743.8,543.6 723.6,546.1Z M649.8,629.0 658.6,629.8 658.6,637.8 651.1,637.8Z M649.8,628.9 657.9,628.9 658.9,639.0 651.9,640.0Z" fill="#0865ec" />
<g clip-path="url(#cDB)"><rect x="320" y="215" width="1250" height="670" fill="#0a3cdc" filter="url(#s3)"/><rect x="320" y="215" width="1250" height="670" fill="#0aa0fa" filter="url(#s2)"/><rect x="320" y="215" width="1250" height="670" fill="#f0f0f0" filter="url(#s6)"/></g>
<path d="M428.7,336.2 451.4,333.7 461.5,341.3 451.4,351.4 436.2,351.4 426.2,346.3Z M499.8,246.7 508.2,245.4 510.7,254.2 504.4,259.3 499.3,255.5Z M624.0,287.0 632.8,287.0 635.3,294.6 627.8,297.1 622.7,293.4Z M625.2,345.1 640.4,346.3 637.8,364.0 627.8,361.5Z M959.3,273.2 973.2,275.7 975.7,282.0 965.6,284.5 958.0,279.5Z M690.8,525.9 711.0,528.4 713.5,541.1 700.9,541.1 693.4,536.0Z M960.0,716.1 963.8,718.6 965.0,726.2 960.0,728.7Z M1001.6,721.1 1005.4,717.3 1009.7,721.1 1007.9,726.2 1002.9,726.2Z M684.1,449.7 697.5,449.7 700.9,468.2 694.2,481.6 684.1,488.3 672.3,488.3 672.3,468.2Z M712.7,488.3 722.8,486.7 726.1,508.5 721.1,532.1 712.7,535.4 709.3,515.2Z M633.6,353.8 650.4,350.4 667.3,367.3 670.6,387.4 660.5,397.5 650.4,384.1 637.0,374.0Z M722.6,564.2 730.7,562.2 731.7,576.3 728.7,587.4 721.6,586.4 720.6,574.3Z" fill="#e5e5e5" />
<path d="M443.8,599.1 446.3,597.8 453.9,601.6 451.4,604.1Z M452.6,591.5 457.7,591.0 457.7,596.6Z M823.3,650.1 837.2,639.5 852.3,629.4 862.4,624.3 871.2,625.6 877.5,616.8 887.6,624.3 900.0,626.9 900.0,650.1Z M900.0,624.3 905.0,626.9 917.7,629.4 925.2,624.3 932.8,618.0 940.4,613.0 946.7,616.8 940.4,624.3 950.5,626.9 954.2,630.6 960.6,634.4 971.4,639.5 980.7,642.0 983.3,647.0 995.9,639.5 1000.9,642.0 1006.0,647.0 1018.6,642.0 1023.6,626.9 1029.9,616.8 1031.2,599.1 1036.2,590.3 1038.8,599.1 1047.6,604.1 1048.9,611.7 1053.9,613.0 1057.7,606.7 1062.7,601.6 1061.5,611.7 1064.0,624.3 1065.3,636.9 1071.6,634.4 1066.5,644.5 1076.6,650.1 900.0,650.1Z M1076.6,650.1 1086.7,639.5 1089.2,626.9 1094.3,626.9 1098.1,639.5 1101.9,644.5 1106.9,650.1Z M1129.6,645.8 1134.7,644.5 1137.2,650.1 1128.3,650.1Z M1250.5,628.1 1259.3,628.1 1259.3,634.4 1250.5,634.4Z M1254.2,650.1 1260.6,638.2 1266.9,636.9 1270.6,644.5 1283.3,648.3 1285.8,650.1Z M1224.0,650.1 1230.3,644.5 1237.8,643.3 1242.9,650.1Z M1347.6,606.7 1356.4,602.9 1356.9,606.7 1348.9,615.5Z M1317.3,625.6 1319.8,624.3 1319.8,634.4 1317.3,634.4Z M791.0,680.4 798.6,671.5 816.2,667.8 821.3,655.1 823.8,647.6 831.4,643.8 844.0,640.0 980.0,640.0 980.0,733.4 972.7,737.1 965.1,725.8 957.5,715.7 950.0,713.2 947.5,718.2 937.4,720.7 932.3,727.0 922.2,728.3 907.1,723.3 897.0,727.0 899.5,735.9 891.9,740.9 881.9,747.2 871.8,748.5 856.6,752.3 846.5,748.5 836.4,740.9 826.3,735.9 816.2,734.6 806.2,737.1 798.6,738.4 791.0,733.4 786.0,733.4 793.5,728.3 791.0,723.3 780.9,723.3 773.4,713.2 767.0,705.6 764.5,690.5 767.0,685.4Z M762.0,667.8 770.8,665.2 775.9,672.8 780.9,680.4 791.0,680.4 788.5,684.2 765.8,684.2 763.3,677.8Z M720.4,689.2 725.4,690.5 735.5,700.6 745.6,713.2 753.2,715.7 755.7,725.8 758.2,737.1 765.8,738.4 780.9,737.1 791.0,740.9 788.5,751.0 791.0,758.6 787.2,762.4 778.4,756.6 768.3,750.5 761.2,742.9 756.2,732.9 752.4,720.7 743.6,713.9 733.5,704.1 723.4,697.5Z M698.9,677.8 705.2,677.8 705.2,680.4 698.9,680.4Z M960.0,632.8 970.1,635.3 975.1,637.8 982.7,641.6 985.2,646.7 997.8,645.4 999.1,639.1 1007.9,645.4 1019.3,641.6 1021.8,625.2 1030.6,620.2 1031.9,607.6 1035.7,601.3 1045.8,602.5 1048.3,610.1 1053.4,610.1 1060.9,617.7 1064.7,627.8 1067.2,637.8 1071.0,635.3 1068.5,645.4 1076.1,647.9 1086.2,645.4 1089.9,635.3 1088.7,626.5 1093.7,627.8 1097.5,637.8 1101.3,644.2 1111.4,653.0 1121.5,650.5 1131.6,645.4 1136.6,650.5 1131.6,658.0 1134.1,665.6 1141.7,660.6 1151.8,666.9 1169.4,668.1 1179.5,665.6 1187.1,659.3 1197.2,660.6 1207.3,653.0 1217.4,658.0 1224.9,650.5 1232.5,645.4 1240.1,649.2 1245.1,658.0 1250.2,653.0 1260.0,647.9 1260.0,665.6 1253.9,680.7 1250.2,695.9 1246.4,708.5 1245.1,718.6 1242.6,731.2 1237.5,743.8 1230.0,746.3 1227.5,753.9 1222.4,764.0 1217.4,761.5 1209.8,753.9 1202.2,746.3 1194.7,737.5 1187.1,733.7 1179.5,736.2 1169.4,745.1 1161.9,743.8 1159.3,736.2 1151.8,728.7 1141.7,723.6 1126.5,723.6 1116.4,726.2 1111.4,728.7 1106.3,726.2 1097.5,724.9 1086.2,726.2 1074.8,731.2 1068.5,726.2 1060.9,724.9 1053.4,731.2 1049.6,741.3 1050.8,751.4 1043.3,755.2 1038.2,751.4 1033.2,746.3 1023.1,741.3 1018.0,745.1 1010.5,742.6 1000.4,736.2 992.8,731.2 985.2,736.2 984.0,742.6 967.6,746.3 960.0,738.8Z M1250.2,629.0 1260.0,627.8 1260.0,634.1 1251.4,634.1Z M1243.9,742.6 1247.6,743.8 1246.4,750.1Z M1160.0,667.1 1173.1,665.5 1179.7,659.0 1189.5,660.6 1192.8,654.0 1199.3,659.0 1209.1,650.8 1215.7,655.7 1225.5,647.5 1235.3,645.9 1241.9,657.3 1251.7,649.1 1261.5,642.6 1264.8,637.7 1269.7,645.9 1281.2,649.1 1287.7,654.0 1284.5,659.0 1274.6,665.5 1264.8,673.7 1258.3,681.9 1253.3,690.1 1248.4,701.5 1245.2,714.6 1240.2,727.7 1241.9,740.8 1235.3,744.1 1227.1,745.7 1223.9,757.2 1220.6,763.8 1215.7,760.5 1209.1,750.7 1202.6,742.5 1192.8,735.9 1186.2,734.3 1176.4,739.2 1166.6,742.5 1160.0,740.8Z M1250.1,629.5 1258.3,628.8 1259.9,633.4 1251.0,634.1Z M1243.5,742.5 1247.8,744.1 1246.8,749.0Z M1348.3,604.9 1356.5,601.6 1355.9,608.2 1350.0,614.7Z M476.2,582.5 482.3,578.4 485.3,568.4 488.4,566.3 490.4,576.4 496.4,580.5 500.5,574.4 496.4,566.3 502.5,560.3 508.5,560.3 510.6,566.3 506.5,570.4 510.6,580.5 516.6,588.5 512.6,592.6 506.5,588.5 500.5,588.5 492.4,590.6 482.3,592.6 476.2,598.6 474.2,594.6Z M488.4,602.7 498.4,604.7 504.5,596.6 510.6,592.6 518.6,596.6 522.7,602.7 516.6,608.7 510.6,610.7 502.5,608.7 494.4,606.7Z M502.5,616.8 510.6,614.8 518.6,620.8 526.7,616.8 534.8,610.7 540.8,606.7 544.9,610.7 538.8,616.8 530.7,622.9 534.8,630.9 542.9,635.0 540.8,643.0 534.8,647.1 538.8,655.1 530.7,651.1 524.7,643.0 518.6,635.0 510.6,626.9 504.5,620.8Z M538.8,552.2 546.9,546.1 548.9,552.2 555.0,550.2 557.0,566.3 555.0,574.4 546.9,573.4 544.9,578.4 538.8,582.5 534.8,576.4 528.7,568.4 534.8,566.3 538.8,560.3Z M536.8,582.5 544.9,580.5 550.9,588.5 560.0,585.5 562.0,591.6 555.0,594.6 551.9,600.6 555.0,606.7 563.0,610.7 567.1,604.7 569.1,614.8 579.2,616.8 581.2,622.9 575.1,626.9 565.1,624.9 559.0,618.8 550.9,610.7 546.9,600.6 542.9,592.6Z M559.0,626.9 571.1,624.9 579.2,626.9 591.3,628.9 598.4,624.9 601.4,632.9 607.4,626.9 611.5,637.0 617.5,630.9 621.6,639.0 629.6,637.0 625.6,645.1 635.7,645.1 643.8,651.1 651.9,659.2 657.9,657.2 651.9,675.3 648.8,665.2 641.8,661.2 637.7,667.3 639.7,675.3 631.7,683.4 627.6,691.5 621.6,697.5 611.5,691.5 603.4,689.5 591.3,683.4 587.3,677.4 595.3,671.3 603.4,663.2 609.5,655.1 611.5,645.1 603.4,641.0 595.3,637.0 587.3,639.0 579.2,647.1 571.1,651.1 563.0,649.1 557.0,643.0 555.0,635.0Z M561.0,577.4 569.1,580.5 573.1,575.4 576.2,574.4 571.1,584.5 563.0,583.5Z M452.0,592.6 457.1,591.6 458.1,596.6 453.0,597.6Z M591.3,568.4 597.4,574.4 605.4,577.4 603.4,579.5 594.3,575.4Z" fill="#ff4500" />
<path d="M852.3,634.4 877.5,629.4 892.7,634.4 890.2,650.1 852.3,650.1Z M920.2,626.9 930.3,621.8 937.8,626.9 932.8,634.4 922.7,633.2Z M900.0,642.0 963.1,642.0 975.7,650.1 900.0,650.1Z M1023.6,626.9 1033.7,624.3 1038.8,636.9 1036.2,650.1 1021.1,650.1Z M1041.3,642.0 1064.0,639.5 1061.5,650.1 1041.3,650.1Z M768.3,687.9 798.6,672.8 821.3,667.8 826.3,652.6 846.5,642.5 871.8,640.0 980.0,640.0 980.0,680.4 957.5,690.5 932.3,698.0 907.1,703.1 894.5,713.2 886.9,725.8 871.8,740.9 856.6,740.9 841.5,730.8 831.4,715.7 811.2,715.7 798.6,703.1 780.9,708.1 770.8,703.1Z M960.0,640.4 977.7,642.9 980.2,658.0 1038.2,658.0 1043.3,630.3 1048.3,620.2 1060.9,625.2 1066.0,650.5 1076.1,670.6 1096.2,680.7 1101.3,675.7 1136.6,670.6 1169.4,673.2 1187.1,675.7 1212.3,668.1 1237.5,668.1 1252.7,675.7 1245.1,706.0 1232.5,718.6 1169.4,713.5 1169.4,708.5 1113.9,708.5 1097.5,711.0 1071.0,708.5 1033.2,708.5 1030.6,700.9 985.2,700.9 975.1,695.9 960.0,698.4Z M1021.8,625.2 1035.7,622.7 1038.2,650.5 1023.1,647.9Z M1169.8,675.3 1186.2,672.1 1205.9,665.5 1225.5,668.8 1238.6,665.5 1248.4,678.6 1253.3,688.4 1248.4,701.5 1243.5,713.0 1230.4,717.9 1173.1,713.0 1168.2,691.7Z M1255.0,662.2 1271.4,652.4 1281.2,659.0 1268.1,670.4 1258.3,675.3Z M478.3,580.5 490.4,582.5 502.5,590.6 510.6,598.6 518.6,602.7 514.6,608.7 502.5,604.7 490.4,594.6Z M540.8,554.2 550.9,552.2 554.0,568.4 544.9,570.4Z M571.1,628.9 591.3,630.9 599.4,637.0 583.2,639.0 571.1,635.0Z M631.7,647.1 651.9,661.2 651.9,671.3 641.8,659.2Z" fill="#cf3a10" />
<g clip-path="url(#cDR)"><rect x="320" y="215" width="1250" height="670" fill="#b42a13" filter="url(#s4)"/><rect x="320" y="215" width="1250" height="670" fill="#e8420c" filter="url(#s5)"/></g>
<path d="M818.8,687.9 836.4,682.9 844.0,693.0 828.9,698.0Z M907.1,660.2 932.3,655.1 944.9,670.3 919.7,677.8Z M856.6,672.8 881.9,670.3 886.9,685.4 861.7,687.9Z" fill="#f0400a" />
<path d="M489.4,556.2 495.4,558.3 500.5,570.4 506.5,580.5 514.6,586.5 514.6,590.6 508.5,588.5 500.5,582.5 494.4,572.4Z M516.6,614.8 528.7,616.8 538.8,624.9 544.9,628.9 546.9,641.0 540.8,645.1 534.8,637.0 526.7,628.9 520.6,622.9Z M510.6,649.1 516.6,651.1 522.7,655.1 526.7,663.2 518.6,663.2 512.6,657.2Z M548.9,626.9 559.0,628.9 563.0,639.0 559.0,647.1 550.9,655.1 546.9,663.2 544.9,669.3 555.0,671.3 567.1,677.4 577.2,679.4 579.2,671.3 587.3,667.3 595.3,661.2 605.4,661.2 611.5,651.1 609.5,643.0 599.4,637.0 591.3,639.0 583.2,647.1 579.2,655.1 571.1,659.2 563.0,655.1 563.0,647.1 555.0,643.0Z" fill="#4d4d4d" />
</g></g>
<g fill="none" stroke="#000" stroke-width="3.7" stroke-linejoin="round" stroke-linecap="round">
<path d="M375.2,235.3 900.0,235.3 956.0,235.3 956.0,226.5 965.1,226.5 966.9,239.1 973.2,242.9 983.3,244.2 987.0,247.4 998.4,244.9 1008.5,247.4 1014.8,253.5 1023.6,253.0 1031.2,258.5 1040.0,259.3 1047.6,255.0 1057.7,258.0 1076.6,261.3 1064.0,266.1 1051.4,273.2 1041.3,280.7 1031.2,288.3 1020.6,295.9 1036.2,292.9 1045.8,293.9 1048.9,298.4 1053.9,298.4 1061.5,297.1 1076.6,291.3 1089.2,287.0 1099.3,280.2 1106.9,276.5 1113.2,275.7 1112.7,279.5 1104.4,284.5 1098.1,289.6 1099.3,293.4 1109.4,294.6 1119.5,299.7 1128.3,302.2 1139.7,299.7 1149.8,296.6 1164.9,294.6 1172.0,294.6 1173.0,300.9 1180.1,303.4 1187.6,305.5 1192.7,313.5 1187.6,315.6 1177.5,314.8 1167.5,312.8 1157.4,313.5 1148.5,316.1 1139.7,317.3 1128.3,317.3 1124.6,323.6 1119.5,331.2 1115.7,337.5 1111.9,345.1 1107.4,351.4 1110.7,350.9 1119.5,340.0 1127.1,333.2 1128.3,335.0 1124.6,342.6 1117.0,352.6 1114.0,357.7 1111.9,364.0 1109.4,376.6 1110.7,391.8 1110.7,393.5 1112.3,400.2 1111.8,406.9 1110.7,412.5 1113.5,418.1 1115.7,423.7 1116.8,427.1 1121.3,429.3 1125.8,428.2 1131.4,425.4 1135.9,423.2 1138.1,418.1 1142.6,411.4 1145.4,404.7 1146.0,396.8 1144.7,394.3 1141.0,381.7 1138.4,366.5 1142.2,351.4 1146.0,341.3 1154.8,333.7 1158.6,341.3 1161.1,336.2 1162.4,326.2 1172.5,319.8 1175.3,319.5 1181.6,323.3 1190.4,327.1 1199.2,330.2 1204.2,332.7 1207.3,339.0 1204.2,342.8 1206.7,347.8 1206.7,354.1 1202.9,359.1 1200.4,364.1 1194.1,366.6 1192.3,372.9 1196.7,377.9 1201.7,375.4 1206.7,367.9 1213.0,365.4 1218.6,367.9 1221.8,376.7 1223.6,386.7 1224.9,392.0 1224.4,393.5 1222.8,401.3 1220.5,405.2 1217.2,402.4 1214.9,408.0 1210.4,410.8 1208.7,417.0 1205.9,422.0 1203.1,425.4 1208.7,429.3 1213.2,432.7 1215.5,431.0 1218.8,433.3 1223.3,436.1 1232.3,432.7 1239.0,432.7 1245.7,427.1 1250.2,423.7 1257.0,422.0 1264.8,419.8 1272.6,415.9 1279.4,412.5 1288.3,407.5 1293.9,404.7 1297.3,400.2 1300.0,399.1 1298.4,394.3 1295.9,388.0 1308.5,384.2 1326.2,387.2 1341.3,384.2 1351.4,380.4 1353.9,374.1 1351.4,365.3 1361.5,359.0 1371.6,348.9 1384.2,340.8 1414.5,340.0 1454.8,339.5 1458.6,332.5 1465.0,330.8 1472.8,323.8 1481.2,314.0 1482.6,305.6 1486.8,295.8 1495.2,284.6 1503.6,275.4 1507.8,276.2 1507.8,281.8 1520.4,278.2 1530.3,280.4 1534.5,287.4 1535.0,308.4 1537.3,319.6 1541.5,326.6 1542.9,335.0 1549.9,340.6 1551.3,344.8 1545.7,349.0 1534.5,351.8 1523.2,356.1 1512.0,359.4 1509.8,353.2 1506.4,361.7 1498.0,367.3 1489.6,374.3 1481.2,377.1 1475.6,385.5 1470.0,395.3 1467.2,398.1 1467.8,400.0 1471.8,403.0 1468.8,406.1 1464.8,410.1 1466.8,413.1 1470.8,415.1 1472.9,420.2 1474.9,424.2 1475.9,427.2 1470.8,430.3 1464.8,433.3 1458.7,435.3 1454.7,433.3 1450.6,436.3 1444.6,438.4 1436.5,438.9 1428.4,439.4 1423.4,438.9 1418.4,441.4 1412.3,443.4 1408.3,444.1 1403.2,447.4 1399.2,454.5 1402.7,460.6 1403.2,466.9 1400.5,475.9 1395.1,484.9 1389.7,492.0 1384.3,499.2 1378.9,493.8 1373.6,490.2 1370.0,484.9 1370.9,478.6 1371.8,484.9 1374.5,493.8 1378.9,504.6 1379.8,514.5 1378.9,522.5 1374.5,529.7 1368.2,536.9 1362.8,545.9 1361.0,549.4 1360.1,554.8 1362.8,563.8 1365.5,571.0 1369.1,580.0 1370.0,583.5 1371.6,594.0 1361.5,599.1 1356.4,601.6 1351.4,609.2 1341.3,613.0 1317.2,629.5 1307.4,634.4 1297.6,640.9 1291.0,649.1 1284.5,657.3 1274.6,665.5 1264.8,673.7 1258.3,681.9 1253.3,690.1 1248.4,701.5 1245.2,714.6 1245.8,724.5 1250.1,740.8 1255.0,757.2 1259.9,770.3 1264.8,783.4 1269.7,796.5 1274.0,812.9 1275.3,829.3 1274.0,845.6 1269.7,855.5 1261.5,862.0 1253.3,862.0 1250.1,858.7 1243.5,848.9 1238.6,839.1 1237.0,829.3 1232.1,819.4 1227.1,812.9 1223.9,803.1 1219.0,796.5 1217.3,790.0 1220.6,783.4 1219.0,770.3 1215.7,760.5 1209.1,750.7 1202.6,742.5 1192.8,735.9 1186.2,734.3 1176.4,739.2 1166.6,742.5 1160.0,740.8 1159.3,736.2 1151.8,728.7 1141.7,723.6 1126.5,723.6 1116.4,726.2 1111.4,728.7 1108.9,723.6 1106.3,716.1 1105.1,728.7 1097.5,724.9 1086.2,726.2 1074.8,731.2 1084.9,731.2 1082.4,737.5 1074.8,743.8 1078.6,750.9 1085.7,759.0 1078.1,762.7 1073.5,752.6 1068.0,749.4 1066.0,756.4 1057.1,754.4 1047.0,758.5 1039.5,752.6 1031.9,745.1 1024.3,740.8 1020.6,743.8 1013.0,744.3 997.8,741.3 984.0,742.6 980.0,743.4 970.2,747.2 962.6,748.5 965.1,742.2 960.1,751.0 955.0,761.1 942.4,768.7 932.3,776.2 928.5,772.5 922.2,777.5 914.7,785.1 907.1,791.4 905.8,799.0 902.0,805.3 908.3,806.5 907.1,814.1 910.9,826.7 914.7,840.6 909.6,843.1 897.0,840.6 886.9,835.5 874.3,830.5 869.2,821.7 866.7,811.6 861.7,799.0 851.6,786.3 844.0,773.7 839.0,761.1 831.4,751.0 823.8,742.2 811.2,742.2 803.6,740.9 796.1,746.0 792.3,758.6 787.2,763.6 778.4,757.3 768.3,751.0 760.7,743.4 755.7,733.4 751.9,720.7 743.1,714.4 733.0,704.3 722.9,698.0 715.3,688.4 680.0,688.4 700.0,688.3 681.3,688.8 681.3,700.9 662.4,700.9 619.5,700.9 542.6,671.9 541.3,665.1 493.4,668.6 490.8,660.6 485.8,650.5 475.7,639.1 468.1,636.6 466.9,631.5 460.6,629.0 450.5,625.2 442.9,620.2 425.2,617.7 420.2,612.6 418.9,600.0 418.6,601.6 413.5,594.0 406.0,584.0 398.4,573.9 392.1,566.3 394.6,562.5 395.9,553.7 388.3,551.2 383.3,541.1 388.3,538.5 383.3,533.5 382.0,524.7 375.7,525.9 370.6,520.9 363.1,508.3 354.2,498.2 353.0,483.0 347.9,470.4 340.4,460.3 344.2,447.7 347.9,435.1 344.2,425.0 341.6,417.5 340.4,406.9 337.8,396.8 342.9,381.7 345.4,366.5 346.7,351.4 349.2,331.2 350.5,318.6 347.9,308.5 349.2,298.4 351.7,290.8 347.9,289.6 345.4,280.7 341.6,269.4 336.6,260.6 333.3,251.7 345.4,254.2 360.6,256.8 371.9,256.8 373.2,242.9 375.2,235.3Z"/>
<path d="M495.5,235.3 495.5,313.5 501.9,317.3 506.9,323.6 504.9,336.2 500.6,345.1 493.0,352.6 491.8,359.0 496.8,362.7 495.5,366.5 495.5,417.5 M515.7,235.3 515.7,260.6 522.0,269.4 524.6,275.7 535.9,287.0 542.2,294.6 552.3,298.4 552.3,306.0 549.8,316.1 547.3,323.6 552.3,327.4 559.9,323.6 564.9,331.2 571.2,343.8 577.5,347.6 583.9,356.4 590.2,353.9 600.0,352.6 M349.2,308.5 360.6,308.5 368.1,311.0 373.2,318.6 375.7,323.6 384.5,325.4 395.9,322.4 408.5,323.6 418.6,321.9 431.2,319.1 441.3,316.6 451.4,314.8 464.0,314.0 495.5,314.0 M600.0,352.6 610.1,352.1 613.9,348.4 618.2,350.1 621.4,354.4 M912.1,235.3 915.1,250.5 917.7,265.6 921.4,283.3 924.0,300.9 925.2,316.1 921.4,323.6 929.0,331.2 930.3,351.4 930.3,380.4 925.2,381.7 927.8,389.2 925.2,399.3 930.3,409.4 934.1,425.1 M1020.6,295.9 1016.1,311.0 1006.0,318.6 1003.4,326.2 1008.5,331.2 1006.0,346.3 1013.5,351.4 1026.2,359.0 1036.2,369.0 1037.5,379.6 1042.6,386.7 1041.3,394.3 1048.9,401.9 1057.7,409.4 1061.5,417.0 1061.5,425.1 M1048.9,297.9 1061.5,300.9 1076.6,306.0 1091.8,311.0 1104.4,315.6 1108.2,321.1 1111.9,331.2 1115.7,337.5 M900.0,398.1 912.6,399.3 925.2,401.9 930.3,409.4 M1417.5,400.6 1432.1,400.6 1459.9,401.3 1471.2,396.8 M1280.2,414.5 1280.2,419.5 1374.1,419.5 1381.7,425.1 M1460.2,333.1 1456.0,342.0 1447.6,356.1 1442.0,370.1 1436.4,384.1 1433.1,399.5 M1465.8,330.8 1465.8,364.5 1467.2,386.9 1470.0,395.3 M1413.4,340.6 1414.6,356.1 1414.0,375.7 1418.2,399.5 M433.0,425.0 433.0,499.4 543.5,601.6 548.5,609.2 552.3,619.3 553.6,626.9 548.5,634.4 546.0,644.5 544.7,650.1 M558.6,551.2 558.6,575.1 553.6,578.2 546.0,576.4 543.5,580.2 546.0,591.5 544.2,601.6 M854.8,614.2 859.9,619.3 867.5,618.0 872.5,624.3 880.1,625.6 887.6,628.1 895.2,630.6 900.0,635.7 M935.3,425.0 940.4,437.6 941.6,452.8 947.9,462.8 954.2,471.7 961.8,476.7 958.0,483.0 964.3,491.9 968.1,494.4 968.1,563.8 970.1,581.4 971.9,596.6 971.4,626.9 971.4,640.7 M944.2,457.0 1031.2,456.5 1036.2,461.6 1033.7,463.4 M968.1,564.3 1061.5,564.3 1064.0,571.3 1057.7,577.6 1069.0,577.6 M1060.2,425.0 1056.4,430.0 1045.1,435.1 1042.6,442.7 1045.1,449.0 1040.0,456.5 1033.7,462.8 1033.7,472.9 1037.5,480.5 1046.3,488.1 1051.4,498.2 1060.2,502.0 1061.5,508.3 1057.7,515.8 1061.5,523.4 1071.6,531.0 1076.6,538.5 1076.6,546.1 1081.7,551.2 1084.2,556.2 1076.6,562.5 1074.1,566.3 1072.8,573.9 1069.0,578.9 1067.8,586.5 1062.7,592.8 1062.7,599.1 1057.7,606.7 1051.4,616.8 1045.1,626.9 1040.0,636.9 1038.8,650.1 M1082.9,552.4 1086.7,546.1 1095.5,548.6 1099.3,541.1 1104.4,537.3 1105.6,528.4 1114.5,527.2 1127.1,529.7 1134.7,524.7 1138.4,528.4 1143.5,520.9 1149.8,523.4 1154.8,518.4 1159.9,508.3 1167.5,505.7 1173.8,503.2 1176.3,496.9 1185.1,498.2 1190.2,504.5 1200.0,507.0 M1117.0,425.0 1117.0,490.6 1114.5,496.9 1117.5,505.7 1113.2,513.3 1108.2,520.9 1105.6,528.4 M1175.0,425.0 1175.0,496.9 M1076.6,563.3 1106.9,563.3 1107.4,561.2 1200.0,562.5 M1062.7,604.6 1200.0,604.6 M1183.9,604.6 1185.1,596.6 1192.7,590.3 1200.0,589.0 M900.0,631.9 910.1,634.4 917.7,631.9 925.2,635.7 932.8,636.9 942.9,633.2 953.0,631.9 960.6,634.4 971.4,640.7 980.7,642.5 981.2,650.1 M1266.1,419.4 1266.1,479.2 1366.5,479.2 M1266.1,452.8 1261.8,457.8 1260.6,470.4 1256.8,479.2 1245.4,486.8 1237.8,493.1 1240.4,498.2 1230.3,500.7 1226.5,510.8 1224.0,514.6 1215.1,508.3 1207.6,507.0 1200.0,505.7 M1224.0,514.6 1220.2,522.1 1225.2,531.0 1232.8,539.8 M1232.8,539.8 1237.8,546.1 1245.4,544.8 1258.0,541.1 1268.1,536.0 1273.2,525.9 1280.7,518.4 1283.3,510.8 1293.4,509.5 1298.4,500.7 1306.0,496.9 1311.0,488.1 M1287.0,479.2 1287.0,493.1 1303.4,484.3 1311.0,485.6 M1232.8,540.6 1220.2,548.6 1210.1,556.2 1205.0,562.5 M1200.0,562.5 1361.5,563.8 M1241.6,562.5 1237.8,571.3 1227.8,576.4 1220.2,578.9 1212.6,584.0 1205.0,589.0 1200.0,591.5 M545.1,600.0 548.9,607.6 551.4,617.7 556.4,622.7 551.4,630.3 548.9,637.8 545.1,646.7 546.3,658.0 541.3,665.1 M714.6,688.4 714.1,684.2 791.0,684.2 791.0,640.0 M1057.1,729.9 1060.9,726.2 1068.5,733.7 1064.7,735.0 1059.7,732.5 1057.1,729.9 M970.1,600.0 970.1,637.8 978.9,640.4 979.7,655.5 979.7,683.3 984.0,693.4 987.8,703.4 989.0,713.5 986.5,726.2 985.2,736.2 984.0,742.6 M960.0,632.8 970.1,637.8 M979.7,656.8 1039.5,656.8 M1060.9,602.5 1054.6,610.1 1048.3,620.2 1043.3,630.3 1040.7,640.4 1039.5,647.9 1042.0,656.8 1040.7,665.6 1044.5,673.2 1040.7,679.5 1035.7,690.8 1033.2,699.7 1030.6,709.0 1069.8,709.0 1071.0,718.6 1073.5,726.2 1074.8,731.2 M1105.1,603.8 1101.3,637.8 1097.5,675.7 1097.5,724.9 M1158.1,603.8 1161.9,625.2 1166.9,650.5 1169.4,670.6 1166.9,683.3 1168.2,700.9 1170.7,716.1 M1116.4,726.2 1117.7,718.6 1113.9,709.0 1169.4,709.0 M1170.7,716.1 1230.0,722.4 1231.2,726.2 1233.8,718.6 1245.1,716.1 M1206.0,610.1 1212.3,617.7 1222.4,627.8 1230.0,637.8 1237.5,650.5 1245.1,663.1 1250.2,673.2 1253.9,680.7 M1200.0,604.7 1205.2,609.8 1215.7,603.3 1228.8,601.6 1255.0,601.6 1258.3,608.2 1282.8,609.2 1307.4,632.8 M1116.8,427.1 1116.8,480.0 M1135.9,426.0 1174.6,426.0 1203.1,425.5 M1174.6,426.0 1174.6,480.0 M1279.4,412.5 1280.5,419.5 1300.0,419.8 M1159.0,336.5 1161.5,337.7 1160.9,345.3 1158.4,345.9 1159.0,336.5 M1475.9,427.2 1479.9,425.7 1485.0,425.2 1488.2,424.2 1487.8,420.2 1485.0,418.2 1481.4,418.0 M1488.2,424.2 1488.2,429.3 1486.0,430.8 M1413.3,418.7 1458.7,418.7 1459.7,424.2 1460.7,427.8 M1449.6,418.7 1449.6,436.3 M1417.3,400.0 1414.8,410.1 1413.3,418.7 1412.3,430.3 1411.3,440.4 1410.3,443.6 M1361.0,549.4 1359.2,542.3 1362.8,535.1 1367.3,527.9 1361.0,524.3 1361.9,518.9 1357.4,517.2 1359.2,511.8 1355.6,508.2 1357.4,501.0 1355.6,493.8 1359.2,486.7 1364.6,480.4 M1347.5,492.0 1346.7,499.2 1348.4,508.2 1346.7,513.6 1353.8,526.1 M1335.9,513.6 1346.7,520.7 1353.8,526.1 M1339.5,524.3 1348.4,531.5 1353.8,535.1 1353.8,526.1 M1341.3,536.9 1348.4,542.3 1352.0,547.7 1353.8,535.1 M1338.6,545.9 1346.7,551.2 1353.8,554.8 1360.1,554.8 M1352.0,547.7 1353.8,554.8 M1310.8,483.1 1317.9,492.0 1322.4,483.1 1323.3,492.0 1328.7,493.8 1338.6,499.2 1340.4,502.8 1334.1,508.2 1331.4,513.6 1335.0,516.3 1338.6,514.5 M1364.6,479.5 1367.3,476.8 1370.9,478.6 M1366.4,479.5 1366.4,514.5 1379.8,514.5 M1384.3,440.0 1378.9,445.4 1377.2,452.6 1381.6,459.7 1387.9,466.9 1378.9,472.3 1371.8,475.9 1367.3,478.0 M1389.7,440.0 1405.0,447.2 M1344.0,569.2 1344.9,580.0 1353.8,580.0 1357.4,574.6 1361.0,578.2 1359.2,585.3 1362.8,583.5 1366.4,580.0 M1338.6,592.5 1346.7,590.7 1353.8,594.3 1361.0,590.7 1366.4,585.3 1369.1,581.7"/>
<path d="M368.3,245.7 374.0,243.2 381.5,243.8 382.8,251.4 381.5,257.7 386.5,261.4 382.8,267.7 384.0,275.2 380.3,281.5 372.7,285.3 369.0,281.5 370.2,275.2 375.2,270.2 379.0,262.7 376.5,256.4 375.2,251.4 379.0,248.9 M375.2,236.3 375.9,241.3 380.3,243.2 M349.5,288.4 352.9,289.0 351.4,295.3 350.1,302.8 M381.2,522.1 387.0,523.4 384.5,528.4 387.0,534.8 392.1,538.5" stroke-width="7.5"/>
<path d="M341.8,419.6 621.4,419.6 M432.6,419.6 432.6,498.6 M558.3,419.6 558.3,551.3 M621.4,340.6 621.4,445.9 M621.4,340.6 769.1,340.6 M621.4,445.9 811.3,445.9 M769.1,235.3 769.1,445.9 M663.6,445.9 663.6,700.6 M558.3,551.3 968.1,551.3 M811.3,445.9 811.3,551.3 M811.3,472.3 953.7,472.3 M769.1,315.9 927.1,315.9 M769.1,393.3 886.2,393.3 M791.3,551.3 791.3,682.9 M791.3,564.4 854.6,564.4 M854.6,564.4 854.6,615.5 M929.5,380.1 1039.8,380.1 M1052.1,406.4 1112.0,406.4 M980.3,656.6 1040.9,656.6 M886.4,393.8 894.0,399.4 900.0,398.0"/>
</g>
<circle cx="1471.3" cy="437.8" r="3" fill="#000"/>
<circle cx="1485.0" cy="438.9" r="3" fill="#000"/>
<circle cx="1474.9" cy="434.8" r="3" fill="#000"/>
<circle cx="1220.6" cy="792.6" r="5" fill="#000"/>
<circle cx="1231.4" cy="818.8" r="3.5" fill="#000"/>
<circle cx="1254.3" cy="862.0" r="4.5" fill="#000"/>
<circle cx="1110.7" cy="347.6" r="4.5" fill="#000"/>
<circle cx="1123.3" cy="340.0" r="4" fill="#000"/>
<circle cx="928.5" cy="773.7" r="4.5" fill="#000"/>
<circle cx="924.7" cy="777.5" r="3.5" fill="#000"/>
<circle cx="962.6" cy="746.0" r="5" fill="#000"/>
<circle cx="903.3" cy="805.3" r="4" fill="#000"/>
<circle cx="907.1" cy="793.9" r="3" fill="#000"/>
</g>
</svg>
</body></html>
